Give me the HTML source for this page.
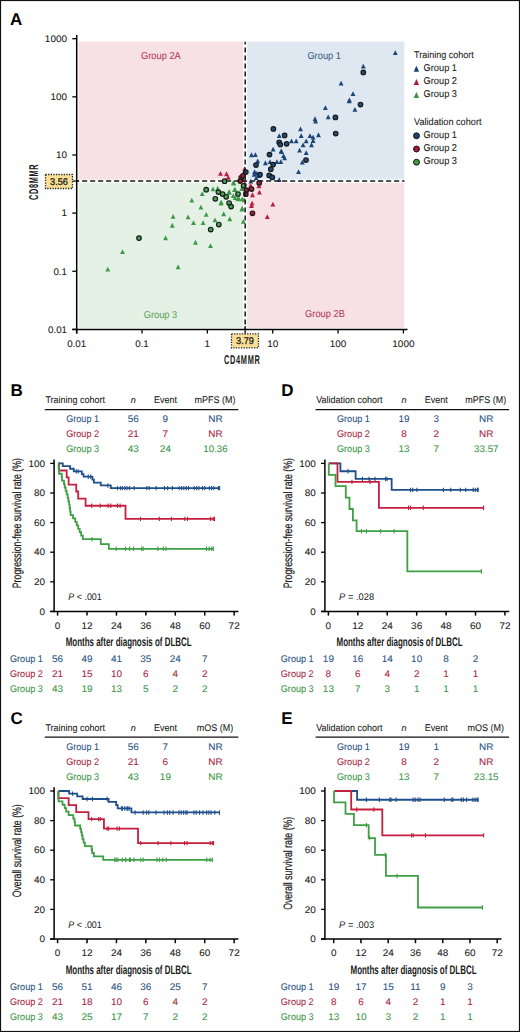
<!DOCTYPE html>
<html><head><meta charset="utf-8"><style>
html,body{margin:0;padding:0;background:#fff;overflow:hidden;}
svg{display:block;font-family:"Liberation Sans",sans-serif;text-rendering:geometricPrecision;}
</style></head><body>
<svg width="520" height="1032" viewBox="0 0 520 1032">
<rect x="0" y="0" width="520" height="1032" fill="#fff"/>
<text x="10.00" y="25.00" font-size="17.00" text-anchor="start" fill="#000" font-weight="bold" font-style="normal" >A</text>
<rect x="78.50" y="41.50" width="164.40" height="137.90" fill="#f7e1e5" />
<rect x="247.20" y="41.50" width="157.10" height="137.90" fill="#dfe8f0" />
<rect x="78.50" y="182.80" width="164.40" height="145.20" fill="#e6f1e5" />
<rect x="247.20" y="182.80" width="157.10" height="145.20" fill="#f7e1e5" />
<text x="160.90" y="59.40" font-size="9.95" text-anchor="middle" fill="#b23a58" font-weight="normal" font-style="normal"  textLength="39.81" lengthAdjust="spacingAndGlyphs" stroke="#b23a58" stroke-width="0.08">Group 2A</text>
<text x="324.20" y="58.80" font-size="9.95" text-anchor="middle" fill="#3f6188" font-weight="normal" font-style="normal"  textLength="33.60" lengthAdjust="spacingAndGlyphs" stroke="#3f6188" stroke-width="0.08">Group 1</text>
<text x="160.50" y="317.50" font-size="9.95" text-anchor="middle" fill="#5aa55f" font-weight="normal" font-style="normal"  textLength="33.60" lengthAdjust="spacingAndGlyphs" stroke="#5aa55f" stroke-width="0.08">Group 3</text>
<text x="325.00" y="317.30" font-size="9.95" text-anchor="middle" fill="#b23a58" font-weight="normal" font-style="normal"  textLength="39.81" lengthAdjust="spacingAndGlyphs" stroke="#b23a58" stroke-width="0.08">Group 2B</text>
<polygon points="392.85,55.05 397.75,55.05 395.30,50.25" fill="#1d4577"/>
<polygon points="360.85,68.55 365.75,68.55 363.30,63.75" fill="#1d4577"/>
<polygon points="338.65,85.45 343.55,85.45 341.10,80.65" fill="#1d4577"/>
<polygon points="350.55,95.95 355.45,95.95 353.00,91.15" fill="#1d4577"/>
<polygon points="346.75,103.35 351.65,103.35 349.20,98.55" fill="#1d4577"/>
<polygon points="352.45,111.75 357.35,111.75 354.90,106.95" fill="#1d4577"/>
<polygon points="322.95,109.95 327.85,109.95 325.40,105.15" fill="#1d4577"/>
<polygon points="325.75,119.35 330.65,119.35 328.20,114.55" fill="#1d4577"/>
<polygon points="312.55,121.15 317.45,121.15 315.00,116.35" fill="#1d4577"/>
<polygon points="313.15,123.55 318.05,123.55 315.60,118.75" fill="#1d4577"/>
<polygon points="298.05,131.25 302.95,131.25 300.50,126.45" fill="#1d4577"/>
<polygon points="298.75,137.95 303.65,137.95 301.20,133.15" fill="#1d4577"/>
<polygon points="307.55,137.95 312.45,137.95 310.00,133.15" fill="#1d4577"/>
<polygon points="310.65,139.55 315.55,139.55 313.10,134.75" fill="#1d4577"/>
<polygon points="316.05,137.15 320.95,137.15 318.50,132.35" fill="#1d4577"/>
<polygon points="310.65,142.95 315.55,142.95 313.10,138.15" fill="#1d4577"/>
<polygon points="303.75,143.35 308.65,143.35 306.20,138.55" fill="#1d4577"/>
<polygon points="289.05,143.35 293.95,143.35 291.50,138.55" fill="#1d4577"/>
<polygon points="293.75,143.35 298.65,143.35 296.20,138.55" fill="#1d4577"/>
<polygon points="276.75,137.95 281.65,137.95 279.20,133.15" fill="#1d4577"/>
<polygon points="300.65,147.25 305.55,147.25 303.10,142.45" fill="#1d4577"/>
<polygon points="309.05,147.15 313.95,147.15 311.50,142.35" fill="#1d4577"/>
<polygon points="297.15,152.55 302.05,152.55 299.60,147.75" fill="#1d4577"/>
<polygon points="303.75,155.05 308.65,155.05 306.20,150.25" fill="#1d4577"/>
<polygon points="270.65,151.45 275.55,151.45 273.10,146.65" fill="#1d4577"/>
<polygon points="278.75,153.35 283.65,153.35 281.20,148.55" fill="#1d4577"/>
<polygon points="249.05,157.15 253.95,157.15 251.50,152.35" fill="#1d4577"/>
<polygon points="252.95,156.95 257.85,156.95 255.40,152.15" fill="#1d4577"/>
<polygon points="281.05,157.95 285.95,157.95 283.50,153.15" fill="#1d4577"/>
<polygon points="282.15,160.25 287.05,160.25 284.60,155.45" fill="#1d4577"/>
<polygon points="279.05,154.05 283.95,154.05 281.50,149.25" fill="#1d4577"/>
<polygon points="299.85,164.55 304.75,164.55 302.30,159.75" fill="#1d4577"/>
<polygon points="255.25,163.35 260.15,163.35 257.70,158.55" fill="#1d4577"/>
<polygon points="262.95,165.15 267.85,165.15 265.40,160.35" fill="#1d4577"/>
<polygon points="267.55,164.05 272.45,164.05 270.00,159.25" fill="#1d4577"/>
<polygon points="274.45,164.05 279.35,164.05 276.90,159.25" fill="#1d4577"/>
<polygon points="278.35,164.05 283.25,164.05 280.80,159.25" fill="#1d4577"/>
<polygon points="296.05,174.05 300.95,174.05 298.50,169.25" fill="#1d4577"/>
<polygon points="252.15,174.05 257.05,174.05 254.60,169.25" fill="#1d4577"/>
<polygon points="254.45,175.65 259.35,175.65 256.90,170.85" fill="#1d4577"/>
<polygon points="253.75,180.25 258.65,180.25 256.20,175.45" fill="#1d4577"/>
<polygon points="276.75,182.05 281.65,182.05 279.20,177.25" fill="#1d4577"/>
<polygon points="248.35,183.55 253.25,183.55 250.80,178.75" fill="#1d4577"/>
<polygon points="251.75,176.75 256.65,176.75 254.20,171.95" fill="#1d4577"/>
<polygon points="256.35,177.95 261.25,177.95 258.80,173.15" fill="#1d4577"/>
<polygon points="346.95,102.25 351.85,102.25 349.40,97.45" fill="#1d4577"/>
<polygon points="218.05,175.85 222.95,175.85 220.50,171.05" fill="#bb1d3d"/>
<polygon points="224.05,176.15 228.95,176.15 226.50,171.35" fill="#bb1d3d"/>
<polygon points="225.85,179.65 230.75,179.65 228.30,174.85" fill="#bb1d3d"/>
<polygon points="242.15,171.05 247.05,171.05 244.60,166.25" fill="#bb1d3d"/>
<polygon points="240.05,176.75 244.95,176.75 242.50,171.95" fill="#bb1d3d"/>
<polygon points="240.65,181.95 245.55,181.95 243.10,177.15" fill="#bb1d3d"/>
<polygon points="242.35,185.45 247.25,185.45 244.80,180.65" fill="#bb1d3d"/>
<polygon points="248.15,187.75 253.05,187.75 250.60,182.95" fill="#bb1d3d"/>
<polygon points="250.05,197.15 254.95,197.15 252.50,192.35" fill="#bb1d3d"/>
<polygon points="256.95,194.45 261.85,194.45 259.40,189.65" fill="#bb1d3d"/>
<polygon points="249.65,205.45 254.55,205.45 252.10,200.65" fill="#bb1d3d"/>
<polygon points="249.05,207.95 253.95,207.95 251.50,203.15" fill="#bb1d3d"/>
<polygon points="270.45,206.55 275.35,206.55 272.90,201.75" fill="#bb1d3d"/>
<polygon points="264.85,218.95 269.75,218.95 267.30,214.15" fill="#bb1d3d"/>
<polygon points="256.55,188.15 261.45,188.15 259.00,183.35" fill="#bb1d3d"/>
<polygon points="231.35,185.45 236.25,185.45 233.80,180.65" fill="#40994a"/>
<polygon points="232.55,191.75 237.45,191.75 235.00,186.95" fill="#40994a"/>
<polygon points="226.75,194.65 231.65,194.65 229.20,189.85" fill="#40994a"/>
<polygon points="210.55,191.25 215.45,191.25 213.00,186.45" fill="#40994a"/>
<polygon points="199.75,196.05 204.65,196.05 202.20,191.25" fill="#40994a"/>
<polygon points="189.35,202.45 194.25,202.45 191.80,197.65" fill="#40994a"/>
<polygon points="215.25,190.65 220.15,190.65 217.70,185.85" fill="#40994a"/>
<polygon points="226.65,193.95 231.55,193.95 229.10,189.15" fill="#40994a"/>
<polygon points="232.05,191.95 236.95,191.95 234.50,187.15" fill="#40994a"/>
<polygon points="232.75,200.05 237.65,200.05 235.20,195.25" fill="#40994a"/>
<polygon points="235.45,201.35 240.35,201.35 237.90,196.55" fill="#40994a"/>
<polygon points="218.55,205.45 223.45,205.45 221.00,200.65" fill="#40994a"/>
<polygon points="198.45,209.45 203.35,209.45 200.90,204.65" fill="#40994a"/>
<polygon points="203.75,216.85 208.65,216.85 206.20,212.05" fill="#40994a"/>
<polygon points="221.25,216.15 226.15,216.15 223.70,211.35" fill="#40994a"/>
<polygon points="185.65,219.35 190.55,219.35 188.10,214.55" fill="#40994a"/>
<polygon points="191.05,224.95 195.95,224.95 193.50,220.15" fill="#40994a"/>
<polygon points="200.65,224.95 205.55,224.95 203.10,220.15" fill="#40994a"/>
<polygon points="212.55,222.25 217.45,222.25 215.00,217.45" fill="#40994a"/>
<polygon points="227.35,221.15 232.25,221.15 229.80,216.35" fill="#40994a"/>
<polygon points="239.45,211.45 244.35,211.45 241.90,206.65" fill="#40994a"/>
<polygon points="240.85,223.75 245.75,223.75 243.30,218.95" fill="#40994a"/>
<polygon points="170.65,218.75 175.55,218.75 173.10,213.95" fill="#40994a"/>
<polygon points="169.85,227.65 174.75,227.65 172.30,222.85" fill="#40994a"/>
<polygon points="163.15,240.15 168.05,240.15 165.60,235.35" fill="#40994a"/>
<polygon points="120.05,254.05 124.95,254.05 122.50,249.25" fill="#40994a"/>
<polygon points="105.35,271.55 110.25,271.55 107.80,266.75" fill="#40994a"/>
<polygon points="175.65,269.35 180.55,269.35 178.10,264.55" fill="#40994a"/>
<polygon points="193.05,244.65 197.95,244.65 195.50,239.85" fill="#40994a"/>
<polygon points="208.05,248.05 212.95,248.05 210.50,243.25" fill="#40994a"/>
<polygon points="230.95,184.85 235.85,184.85 233.40,180.05" fill="#40994a"/>
<polygon points="239.25,191.05 244.15,191.05 241.70,186.25" fill="#40994a"/>
<polygon points="239.85,201.35 244.75,201.35 242.30,196.55" fill="#40994a"/>
<polygon points="239.85,210.55 244.75,210.55 242.30,205.75" fill="#40994a"/>
<polygon points="218.75,204.45 223.65,204.45 221.20,199.65" fill="#40994a"/>
<polygon points="236.55,200.95 241.45,200.95 239.00,196.15" fill="#40994a"/>
<polygon points="241.75,202.15 246.65,202.15 244.20,197.35" fill="#40994a"/>
<polygon points="230.75,198.05 235.65,198.05 233.20,193.25" fill="#40994a"/>
<circle cx="224.60" cy="181.20" r="2.3" fill="#4b9f58" stroke="#141a16" stroke-width="1.15"/>
<circle cx="206.20" cy="189.70" r="2.3" fill="#4b9f58" stroke="#141a16" stroke-width="1.15"/>
<circle cx="218.40" cy="192.10" r="2.3" fill="#4b9f58" stroke="#141a16" stroke-width="1.15"/>
<circle cx="222.60" cy="194.00" r="2.3" fill="#4b9f58" stroke="#141a16" stroke-width="1.15"/>
<circle cx="226.20" cy="196.80" r="2.3" fill="#4b9f58" stroke="#141a16" stroke-width="1.15"/>
<circle cx="238.00" cy="194.00" r="2.3" fill="#4b9f58" stroke="#141a16" stroke-width="1.15"/>
<circle cx="215.30" cy="198.80" r="2.3" fill="#4b9f58" stroke="#141a16" stroke-width="1.15"/>
<circle cx="229.10" cy="203.00" r="2.3" fill="#4b9f58" stroke="#141a16" stroke-width="1.15"/>
<circle cx="231.10" cy="206.60" r="2.3" fill="#4b9f58" stroke="#141a16" stroke-width="1.15"/>
<circle cx="218.80" cy="224.50" r="2.3" fill="#4b9f58" stroke="#141a16" stroke-width="1.15"/>
<circle cx="210.70" cy="229.50" r="2.3" fill="#4b9f58" stroke="#141a16" stroke-width="1.15"/>
<circle cx="139.00" cy="238.10" r="2.3" fill="#4b9f58" stroke="#141a16" stroke-width="1.15"/>
<circle cx="243.60" cy="185.80" r="2.3" fill="#4b9f58" stroke="#141a16" stroke-width="1.15"/>
<circle cx="241.30" cy="177.70" r="2.3" fill="#a8183a" stroke="#141a16" stroke-width="1.15"/>
<circle cx="240.20" cy="181.10" r="2.3" fill="#a8183a" stroke="#141a16" stroke-width="1.15"/>
<circle cx="251.50" cy="189.00" r="2.3" fill="#a8183a" stroke="#141a16" stroke-width="1.15"/>
<circle cx="246.30" cy="190.20" r="2.3" fill="#a8183a" stroke="#141a16" stroke-width="1.15"/>
<circle cx="245.80" cy="194.20" r="2.3" fill="#a8183a" stroke="#141a16" stroke-width="1.15"/>
<circle cx="259.20" cy="182.90" r="2.3" fill="#a8183a" stroke="#141a16" stroke-width="1.15"/>
<circle cx="252.50" cy="213.30" r="2.3" fill="#a8183a" stroke="#141a16" stroke-width="1.15"/>
<circle cx="243.00" cy="175.80" r="2.3" fill="#a8183a" stroke="#141a16" stroke-width="1.15"/>
<circle cx="363.30" cy="72.40" r="2.3" fill="#24497a" stroke="#141a16" stroke-width="1.15"/>
<circle cx="360.50" cy="104.60" r="2.3" fill="#24497a" stroke="#141a16" stroke-width="1.15"/>
<circle cx="335.40" cy="117.40" r="2.3" fill="#24497a" stroke="#141a16" stroke-width="1.15"/>
<circle cx="335.70" cy="133.50" r="2.3" fill="#24497a" stroke="#141a16" stroke-width="1.15"/>
<circle cx="273.40" cy="128.90" r="2.3" fill="#24497a" stroke="#141a16" stroke-width="1.15"/>
<circle cx="284.60" cy="135.40" r="2.3" fill="#24497a" stroke="#141a16" stroke-width="1.15"/>
<circle cx="279.20" cy="142.30" r="2.3" fill="#24497a" stroke="#141a16" stroke-width="1.15"/>
<circle cx="280.30" cy="144.60" r="2.3" fill="#24497a" stroke="#141a16" stroke-width="1.15"/>
<circle cx="286.60" cy="143.80" r="2.3" fill="#24497a" stroke="#141a16" stroke-width="1.15"/>
<circle cx="269.50" cy="154.60" r="2.3" fill="#24497a" stroke="#141a16" stroke-width="1.15"/>
<circle cx="306.00" cy="160.00" r="2.3" fill="#24497a" stroke="#141a16" stroke-width="1.15"/>
<circle cx="256.00" cy="165.00" r="2.3" fill="#24497a" stroke="#141a16" stroke-width="1.15"/>
<circle cx="273.10" cy="164.60" r="2.3" fill="#24497a" stroke="#141a16" stroke-width="1.15"/>
<circle cx="270.80" cy="169.20" r="2.3" fill="#24497a" stroke="#141a16" stroke-width="1.15"/>
<circle cx="260.00" cy="174.60" r="2.3" fill="#24497a" stroke="#141a16" stroke-width="1.15"/>
<circle cx="269.20" cy="175.40" r="2.3" fill="#24497a" stroke="#141a16" stroke-width="1.15"/>
<circle cx="272.30" cy="177.40" r="2.3" fill="#24497a" stroke="#141a16" stroke-width="1.15"/>
<circle cx="245.80" cy="172.00" r="2.3" fill="#24497a" stroke="#141a16" stroke-width="1.15"/>
<line x1="245.19" y1="41.80" x2="245.19" y2="329.00" stroke="#1a1a1a" stroke-width="1.5" stroke-dasharray="5,3" stroke-dashoffset="2.3"/>
<line x1="245.19" y1="326.00" x2="245.19" y2="334.00" stroke="#222" stroke-width="1.4" />
<line x1="77.00" y1="181.06" x2="404.50" y2="181.06" stroke="#1a1a1a" stroke-width="1.6" stroke-dasharray="5.1,2.9" stroke-dashoffset="2.9"/>
<line x1="72.50" y1="181.06" x2="79.00" y2="181.06" stroke="#222" stroke-width="1.4" />
<line x1="76.70" y1="35.00" x2="76.70" y2="333.50" stroke="#000" stroke-width="1.5" />
<line x1="72.30" y1="329.40" x2="407.50" y2="329.40" stroke="#000" stroke-width="1.5" />
<line x1="72.30" y1="329.40" x2="76.70" y2="329.40" stroke="#000" stroke-width="1.3" />
<text x="67.00" y="332.70" font-size="9.60" text-anchor="end" fill="#1a1a1a" font-weight="normal" font-style="normal"  textLength="18.98" lengthAdjust="spacingAndGlyphs" stroke="#1a1a1a" stroke-width="0.08">0.01</text>
<line x1="76.70" y1="329.40" x2="76.70" y2="333.50" stroke="#000" stroke-width="1.3" />
<text x="76.70" y="346.50" font-size="9.60" text-anchor="middle" fill="#1a1a1a" font-weight="normal" font-style="normal"  textLength="18.98" lengthAdjust="spacingAndGlyphs" stroke="#1a1a1a" stroke-width="0.08">0.01</text>
<line x1="72.30" y1="271.26" x2="76.70" y2="271.26" stroke="#000" stroke-width="1.3" />
<text x="67.00" y="274.56" font-size="9.60" text-anchor="end" fill="#1a1a1a" font-weight="normal" font-style="normal"  textLength="13.55" lengthAdjust="spacingAndGlyphs" stroke="#1a1a1a" stroke-width="0.08">0.1</text>
<line x1="142.04" y1="329.40" x2="142.04" y2="333.50" stroke="#000" stroke-width="1.3" />
<text x="142.04" y="346.50" font-size="9.60" text-anchor="middle" fill="#1a1a1a" font-weight="normal" font-style="normal"  textLength="13.55" lengthAdjust="spacingAndGlyphs" stroke="#1a1a1a" stroke-width="0.08">0.1</text>
<line x1="72.30" y1="213.12" x2="76.70" y2="213.12" stroke="#000" stroke-width="1.3" />
<text x="67.00" y="216.42" font-size="9.60" text-anchor="end" fill="#1a1a1a" font-weight="normal" font-style="normal"  textLength="5.53" lengthAdjust="spacingAndGlyphs" stroke="#1a1a1a" stroke-width="0.08">1</text>
<line x1="207.38" y1="329.40" x2="207.38" y2="333.50" stroke="#000" stroke-width="1.3" />
<text x="207.38" y="346.50" font-size="9.60" text-anchor="middle" fill="#1a1a1a" font-weight="normal" font-style="normal"  textLength="5.53" lengthAdjust="spacingAndGlyphs" stroke="#1a1a1a" stroke-width="0.08">1</text>
<line x1="72.30" y1="154.98" x2="76.70" y2="154.98" stroke="#000" stroke-width="1.3" />
<text x="67.00" y="158.28" font-size="9.60" text-anchor="end" fill="#1a1a1a" font-weight="normal" font-style="normal"  textLength="11.07" lengthAdjust="spacingAndGlyphs" stroke="#1a1a1a" stroke-width="0.08">10</text>
<line x1="272.72" y1="329.40" x2="272.72" y2="333.50" stroke="#000" stroke-width="1.3" />
<text x="272.72" y="346.50" font-size="9.60" text-anchor="middle" fill="#1a1a1a" font-weight="normal" font-style="normal"  textLength="11.07" lengthAdjust="spacingAndGlyphs" stroke="#1a1a1a" stroke-width="0.08">10</text>
<line x1="72.30" y1="96.84" x2="76.70" y2="96.84" stroke="#000" stroke-width="1.3" />
<text x="67.00" y="100.14" font-size="9.60" text-anchor="end" fill="#1a1a1a" font-weight="normal" font-style="normal"  textLength="16.60" lengthAdjust="spacingAndGlyphs" stroke="#1a1a1a" stroke-width="0.08">100</text>
<line x1="338.06" y1="329.40" x2="338.06" y2="333.50" stroke="#000" stroke-width="1.3" />
<text x="338.06" y="346.50" font-size="9.60" text-anchor="middle" fill="#1a1a1a" font-weight="normal" font-style="normal"  textLength="16.60" lengthAdjust="spacingAndGlyphs" stroke="#1a1a1a" stroke-width="0.08">100</text>
<line x1="72.30" y1="38.70" x2="76.70" y2="38.70" stroke="#000" stroke-width="1.3" />
<text x="67.00" y="42.00" font-size="9.60" text-anchor="end" fill="#1a1a1a" font-weight="normal" font-style="normal"  textLength="22.14" lengthAdjust="spacingAndGlyphs" stroke="#1a1a1a" stroke-width="0.08">1000</text>
<line x1="403.40" y1="329.40" x2="403.40" y2="333.50" stroke="#000" stroke-width="1.3" />
<text x="403.40" y="346.50" font-size="9.60" text-anchor="middle" fill="#1a1a1a" font-weight="normal" font-style="normal"  textLength="22.14" lengthAdjust="spacingAndGlyphs" stroke="#1a1a1a" stroke-width="0.08">1000</text>
<rect x="45.50" y="174.50" width="27.00" height="14.00" fill="#f9df95" stroke="#222" stroke-width="1.3" stroke-dasharray="1.3,1.3"/>
<text x="59" y="184.7" font-size="9.7" text-anchor="middle" fill="#1a1a1a" stroke="#1a1a1a" stroke-width="0.3" textLength="17.8" lengthAdjust="spacingAndGlyphs">3.56</text>
<rect x="231.50" y="333.80" width="27.00" height="14.00" fill="#f9df95" stroke="#222" stroke-width="1.3" stroke-dasharray="1.3,1.3"/>
<text x="245" y="344.1" font-size="9.7" text-anchor="middle" fill="#1a1a1a" stroke="#1a1a1a" stroke-width="0.3" textLength="17.8" lengthAdjust="spacingAndGlyphs">3.79</text>
<text x="242.30" y="364.20" font-size="12.80" text-anchor="middle" fill="#1a1a1a" font-weight="bold" font-style="normal" letter-spacing="1.2" textLength="36.5" lengthAdjust="spacingAndGlyphs">CD4MMR</text>
<text transform="translate(37.7,181.9) rotate(-90)" font-size="12.8" text-anchor="middle" font-weight="bold" letter-spacing="1.2" fill="#1a1a1a" textLength="36.3" lengthAdjust="spacingAndGlyphs">CD8MMR</text>
<text x="414.00" y="58.00" font-size="9.67" text-anchor="start" fill="#1a1a1a" font-weight="normal" font-style="normal"  textLength="59.70" lengthAdjust="spacingAndGlyphs" stroke="#1a1a1a" stroke-width="0.08">Training cohort</text>
<polygon points="413.70,71.80 419.10,71.80 416.40,65.80" fill="#1c3f6c"/>
<text x="423.60" y="70.80" font-size="9.90" text-anchor="start" fill="#1a1a1a" font-weight="normal" font-style="normal"  textLength="33.42" lengthAdjust="spacingAndGlyphs" stroke="#1a1a1a" stroke-width="0.08">Group 1</text>
<polygon points="413.70,84.90 419.10,84.90 416.40,78.90" fill="#a81c3a"/>
<text x="423.60" y="83.90" font-size="9.90" text-anchor="start" fill="#1a1a1a" font-weight="normal" font-style="normal"  textLength="33.42" lengthAdjust="spacingAndGlyphs" stroke="#1a1a1a" stroke-width="0.08">Group 2</text>
<polygon points="413.70,98.00 419.10,98.00 416.40,92.00" fill="#3a9144"/>
<text x="423.60" y="97.00" font-size="9.90" text-anchor="start" fill="#1a1a1a" font-weight="normal" font-style="normal"  textLength="33.42" lengthAdjust="spacingAndGlyphs" stroke="#1a1a1a" stroke-width="0.08">Group 3</text>
<text x="414.00" y="124.90" font-size="9.84" text-anchor="start" fill="#1a1a1a" font-weight="normal" font-style="normal"  textLength="67.48" lengthAdjust="spacingAndGlyphs" stroke="#1a1a1a" stroke-width="0.08">Validation cohort</text>
<circle cx="416.5" cy="135.80" r="2.95" fill="#1d4273" stroke="#151515" stroke-width="1"/>
<text x="423.60" y="137.80" font-size="9.90" text-anchor="start" fill="#1a1a1a" font-weight="normal" font-style="normal"  textLength="33.42" lengthAdjust="spacingAndGlyphs" stroke="#1a1a1a" stroke-width="0.08">Group 1</text>
<circle cx="416.5" cy="149.00" r="2.95" fill="#a8183a" stroke="#151515" stroke-width="1"/>
<text x="423.60" y="150.85" font-size="9.90" text-anchor="start" fill="#1a1a1a" font-weight="normal" font-style="normal"  textLength="33.42" lengthAdjust="spacingAndGlyphs" stroke="#1a1a1a" stroke-width="0.08">Group 2</text>
<circle cx="416.5" cy="162.20" r="2.95" fill="#3d9a45" stroke="#151515" stroke-width="1"/>
<text x="423.60" y="163.90" font-size="9.90" text-anchor="start" fill="#1a1a1a" font-weight="normal" font-style="normal"  textLength="33.42" lengthAdjust="spacingAndGlyphs" stroke="#1a1a1a" stroke-width="0.08">Group 3</text>
<text x="10.50" y="396.00" font-size="17.00" text-anchor="start" fill="#000" font-weight="bold" font-style="normal" >B</text>
<text x="45.40" y="403.30" font-size="9.67" text-anchor="start" fill="#1a1a1a" font-weight="normal" font-style="normal"  textLength="59.70" lengthAdjust="spacingAndGlyphs" stroke="#1a1a1a" stroke-width="0.08">Training cohort</text>
<text x="133.20" y="403.30" font-size="9.00" text-anchor="middle" fill="#1a1a1a" font-weight="normal" font-style="italic"  stroke="#1a1a1a" stroke-width="0.08">n</text>
<text x="165.40" y="403.30" font-size="9.67" text-anchor="middle" fill="#1a1a1a" font-weight="normal" font-style="normal"  textLength="23.01" lengthAdjust="spacingAndGlyphs" stroke="#1a1a1a" stroke-width="0.08">Event</text>
<text x="215.00" y="403.30" font-size="9.67" text-anchor="middle" fill="#1a1a1a" font-weight="normal" font-style="normal"  textLength="40.99" lengthAdjust="spacingAndGlyphs" stroke="#1a1a1a" stroke-width="0.08">mPFS (M)</text>
<line x1="44.80" y1="409.60" x2="238.30" y2="409.60" stroke="#111" stroke-width="1.3" />
<text x="66.20" y="422.10" font-size="9.74" text-anchor="start" fill="#2a5282" font-weight="normal" font-style="normal"  textLength="32.88" lengthAdjust="spacingAndGlyphs" stroke="#2a5282" stroke-width="0.08">Group 1</text>
<text x="133.20" y="422.10" font-size="9.60" text-anchor="middle" fill="#2a5282" font-weight="normal" font-style="normal"  textLength="11.07" lengthAdjust="spacingAndGlyphs" stroke="#2a5282" stroke-width="0.08">56</text>
<text x="165.40" y="422.10" font-size="9.60" text-anchor="middle" fill="#2a5282" font-weight="normal" font-style="normal"  textLength="5.53" lengthAdjust="spacingAndGlyphs" stroke="#2a5282" stroke-width="0.08">9</text>
<text x="215.50" y="422.10" font-size="9.60" text-anchor="middle" fill="#2a5282" font-weight="normal" font-style="normal"  textLength="14.37" lengthAdjust="spacingAndGlyphs" stroke="#2a5282" stroke-width="0.08">NR</text>
<text x="66.20" y="437.25" font-size="9.74" text-anchor="start" fill="#aa2642" font-weight="normal" font-style="normal"  textLength="32.88" lengthAdjust="spacingAndGlyphs" stroke="#aa2642" stroke-width="0.08">Group 2</text>
<text x="133.20" y="437.25" font-size="9.60" text-anchor="middle" fill="#aa2642" font-weight="normal" font-style="normal"  textLength="11.07" lengthAdjust="spacingAndGlyphs" stroke="#aa2642" stroke-width="0.08">21</text>
<text x="165.40" y="437.25" font-size="9.60" text-anchor="middle" fill="#aa2642" font-weight="normal" font-style="normal"  textLength="5.53" lengthAdjust="spacingAndGlyphs" stroke="#aa2642" stroke-width="0.08">7</text>
<text x="215.50" y="437.25" font-size="9.60" text-anchor="middle" fill="#aa2642" font-weight="normal" font-style="normal"  textLength="14.37" lengthAdjust="spacingAndGlyphs" stroke="#aa2642" stroke-width="0.08">NR</text>
<text x="66.20" y="452.40" font-size="9.74" text-anchor="start" fill="#3d9647" font-weight="normal" font-style="normal"  textLength="32.88" lengthAdjust="spacingAndGlyphs" stroke="#3d9647" stroke-width="0.08">Group 3</text>
<text x="133.20" y="452.40" font-size="9.60" text-anchor="middle" fill="#3d9647" font-weight="normal" font-style="normal"  textLength="11.07" lengthAdjust="spacingAndGlyphs" stroke="#3d9647" stroke-width="0.08">43</text>
<text x="165.40" y="452.40" font-size="9.60" text-anchor="middle" fill="#3d9647" font-weight="normal" font-style="normal"  textLength="11.07" lengthAdjust="spacingAndGlyphs" stroke="#3d9647" stroke-width="0.08">24</text>
<text x="215.50" y="452.40" font-size="9.60" text-anchor="middle" fill="#3d9647" font-weight="normal" font-style="normal"  textLength="24.40" lengthAdjust="spacingAndGlyphs" stroke="#3d9647" stroke-width="0.08">10.36</text>
<line x1="54.10" y1="459.60" x2="54.10" y2="612.20" stroke="#000" stroke-width="1.5" />
<line x1="50.20" y1="611.40" x2="238.44" y2="611.40" stroke="#000" stroke-width="1.5" />
<line x1="50.20" y1="611.40" x2="54.10" y2="611.40" stroke="#000" stroke-width="1.3" />
<text x="45.00" y="614.60" font-size="9.60" text-anchor="end" fill="#1a1a1a" font-weight="normal" font-style="normal"  textLength="5.53" lengthAdjust="spacingAndGlyphs" stroke="#1a1a1a" stroke-width="0.08">0</text>
<line x1="50.20" y1="581.80" x2="54.10" y2="581.80" stroke="#000" stroke-width="1.3" />
<text x="45.00" y="585.00" font-size="9.60" text-anchor="end" fill="#1a1a1a" font-weight="normal" font-style="normal"  textLength="11.07" lengthAdjust="spacingAndGlyphs" stroke="#1a1a1a" stroke-width="0.08">20</text>
<line x1="50.20" y1="552.20" x2="54.10" y2="552.20" stroke="#000" stroke-width="1.3" />
<text x="45.00" y="555.40" font-size="9.60" text-anchor="end" fill="#1a1a1a" font-weight="normal" font-style="normal"  textLength="11.07" lengthAdjust="spacingAndGlyphs" stroke="#1a1a1a" stroke-width="0.08">40</text>
<line x1="50.20" y1="522.60" x2="54.10" y2="522.60" stroke="#000" stroke-width="1.3" />
<text x="45.00" y="525.80" font-size="9.60" text-anchor="end" fill="#1a1a1a" font-weight="normal" font-style="normal"  textLength="11.07" lengthAdjust="spacingAndGlyphs" stroke="#1a1a1a" stroke-width="0.08">60</text>
<line x1="50.20" y1="493.00" x2="54.10" y2="493.00" stroke="#000" stroke-width="1.3" />
<text x="45.00" y="496.20" font-size="9.60" text-anchor="end" fill="#1a1a1a" font-weight="normal" font-style="normal"  textLength="11.07" lengthAdjust="spacingAndGlyphs" stroke="#1a1a1a" stroke-width="0.08">80</text>
<line x1="50.20" y1="463.40" x2="54.10" y2="463.40" stroke="#000" stroke-width="1.3" />
<text x="45.00" y="466.60" font-size="9.60" text-anchor="end" fill="#1a1a1a" font-weight="normal" font-style="normal"  textLength="16.60" lengthAdjust="spacingAndGlyphs" stroke="#1a1a1a" stroke-width="0.08">100</text>
<line x1="57.60" y1="611.40" x2="57.60" y2="615.60" stroke="#000" stroke-width="1.5" />
<text x="57.60" y="628.80" font-size="9.60" text-anchor="middle" fill="#1a1a1a" font-weight="normal" font-style="normal"  textLength="5.53" lengthAdjust="spacingAndGlyphs" stroke="#1a1a1a" stroke-width="0.08">0</text>
<line x1="87.02" y1="611.40" x2="87.02" y2="615.60" stroke="#000" stroke-width="1.5" />
<text x="87.02" y="628.80" font-size="9.60" text-anchor="middle" fill="#1a1a1a" font-weight="normal" font-style="normal"  textLength="11.07" lengthAdjust="spacingAndGlyphs" stroke="#1a1a1a" stroke-width="0.08">12</text>
<line x1="116.45" y1="611.40" x2="116.45" y2="615.60" stroke="#000" stroke-width="1.5" />
<text x="116.45" y="628.80" font-size="9.60" text-anchor="middle" fill="#1a1a1a" font-weight="normal" font-style="normal"  textLength="11.07" lengthAdjust="spacingAndGlyphs" stroke="#1a1a1a" stroke-width="0.08">24</text>
<line x1="145.87" y1="611.40" x2="145.87" y2="615.60" stroke="#000" stroke-width="1.5" />
<text x="145.87" y="628.80" font-size="9.60" text-anchor="middle" fill="#1a1a1a" font-weight="normal" font-style="normal"  textLength="11.07" lengthAdjust="spacingAndGlyphs" stroke="#1a1a1a" stroke-width="0.08">36</text>
<line x1="175.30" y1="611.40" x2="175.30" y2="615.60" stroke="#000" stroke-width="1.5" />
<text x="175.30" y="628.80" font-size="9.60" text-anchor="middle" fill="#1a1a1a" font-weight="normal" font-style="normal"  textLength="11.07" lengthAdjust="spacingAndGlyphs" stroke="#1a1a1a" stroke-width="0.08">48</text>
<line x1="204.72" y1="611.40" x2="204.72" y2="615.60" stroke="#000" stroke-width="1.5" />
<text x="204.72" y="628.80" font-size="9.60" text-anchor="middle" fill="#1a1a1a" font-weight="normal" font-style="normal"  textLength="11.07" lengthAdjust="spacingAndGlyphs" stroke="#1a1a1a" stroke-width="0.08">60</text>
<line x1="234.14" y1="611.40" x2="234.14" y2="615.60" stroke="#000" stroke-width="1.5" />
<text x="234.14" y="628.80" font-size="9.60" text-anchor="middle" fill="#1a1a1a" font-weight="normal" font-style="normal"  textLength="11.07" lengthAdjust="spacingAndGlyphs" stroke="#1a1a1a" stroke-width="0.08">72</text>
<text x="128.70" y="646.00" font-size="12.40" text-anchor="middle" fill="#1a1a1a" font-weight="bold" font-style="normal" textLength="126" lengthAdjust="spacingAndGlyphs">Months after diagnosis of DLBCL</text>
<text transform="translate(20.90,523.20) rotate(-90)" font-size="12.2" text-anchor="middle" fill="#1a1a1a" stroke="#1a1a1a" stroke-width="0.22" textLength="130" lengthAdjust="spacingAndGlyphs">Progression-free survival rate (%)</text>
<text x="68.30" y="600.40" font-size="9.6" fill="#1a1a1a" textLength="33.5" lengthAdjust="spacingAndGlyphs"><tspan font-style="italic">P</tspan> &lt; .001</text>
<text x="10.00" y="662.40" font-size="9.74" text-anchor="start" fill="#2a5282" font-weight="normal" font-style="normal"  textLength="32.88" lengthAdjust="spacingAndGlyphs" stroke="#2a5282" stroke-width="0.08">Group 1</text>
<text x="57.60" y="662.40" font-size="9.60" text-anchor="middle" fill="#2a5282" font-weight="normal" font-style="normal"  textLength="11.07" lengthAdjust="spacingAndGlyphs" stroke="#2a5282" stroke-width="0.08">56</text>
<text x="87.02" y="662.40" font-size="9.60" text-anchor="middle" fill="#2a5282" font-weight="normal" font-style="normal"  textLength="11.07" lengthAdjust="spacingAndGlyphs" stroke="#2a5282" stroke-width="0.08">49</text>
<text x="116.45" y="662.40" font-size="9.60" text-anchor="middle" fill="#2a5282" font-weight="normal" font-style="normal"  textLength="11.07" lengthAdjust="spacingAndGlyphs" stroke="#2a5282" stroke-width="0.08">41</text>
<text x="145.87" y="662.40" font-size="9.60" text-anchor="middle" fill="#2a5282" font-weight="normal" font-style="normal"  textLength="11.07" lengthAdjust="spacingAndGlyphs" stroke="#2a5282" stroke-width="0.08">35</text>
<text x="175.30" y="662.40" font-size="9.60" text-anchor="middle" fill="#2a5282" font-weight="normal" font-style="normal"  textLength="11.07" lengthAdjust="spacingAndGlyphs" stroke="#2a5282" stroke-width="0.08">24</text>
<text x="204.72" y="662.40" font-size="9.60" text-anchor="middle" fill="#2a5282" font-weight="normal" font-style="normal"  textLength="5.53" lengthAdjust="spacingAndGlyphs" stroke="#2a5282" stroke-width="0.08">7</text>
<text x="10.00" y="677.40" font-size="9.74" text-anchor="start" fill="#aa2642" font-weight="normal" font-style="normal"  textLength="32.88" lengthAdjust="spacingAndGlyphs" stroke="#aa2642" stroke-width="0.08">Group 2</text>
<text x="57.60" y="677.40" font-size="9.60" text-anchor="middle" fill="#aa2642" font-weight="normal" font-style="normal"  textLength="11.07" lengthAdjust="spacingAndGlyphs" stroke="#aa2642" stroke-width="0.08">21</text>
<text x="87.02" y="677.40" font-size="9.60" text-anchor="middle" fill="#aa2642" font-weight="normal" font-style="normal"  textLength="11.07" lengthAdjust="spacingAndGlyphs" stroke="#aa2642" stroke-width="0.08">15</text>
<text x="116.45" y="677.40" font-size="9.60" text-anchor="middle" fill="#aa2642" font-weight="normal" font-style="normal"  textLength="11.07" lengthAdjust="spacingAndGlyphs" stroke="#aa2642" stroke-width="0.08">10</text>
<text x="145.87" y="677.40" font-size="9.60" text-anchor="middle" fill="#aa2642" font-weight="normal" font-style="normal"  textLength="5.53" lengthAdjust="spacingAndGlyphs" stroke="#aa2642" stroke-width="0.08">6</text>
<text x="175.30" y="677.40" font-size="9.60" text-anchor="middle" fill="#aa2642" font-weight="normal" font-style="normal"  textLength="5.53" lengthAdjust="spacingAndGlyphs" stroke="#aa2642" stroke-width="0.08">4</text>
<text x="204.72" y="677.40" font-size="9.60" text-anchor="middle" fill="#aa2642" font-weight="normal" font-style="normal"  textLength="5.53" lengthAdjust="spacingAndGlyphs" stroke="#aa2642" stroke-width="0.08">2</text>
<text x="10.00" y="692.40" font-size="9.74" text-anchor="start" fill="#3d9647" font-weight="normal" font-style="normal"  textLength="32.88" lengthAdjust="spacingAndGlyphs" stroke="#3d9647" stroke-width="0.08">Group 3</text>
<text x="57.60" y="692.40" font-size="9.60" text-anchor="middle" fill="#3d9647" font-weight="normal" font-style="normal"  textLength="11.07" lengthAdjust="spacingAndGlyphs" stroke="#3d9647" stroke-width="0.08">43</text>
<text x="87.02" y="692.40" font-size="9.60" text-anchor="middle" fill="#3d9647" font-weight="normal" font-style="normal"  textLength="11.07" lengthAdjust="spacingAndGlyphs" stroke="#3d9647" stroke-width="0.08">19</text>
<text x="116.45" y="692.40" font-size="9.60" text-anchor="middle" fill="#3d9647" font-weight="normal" font-style="normal"  textLength="11.07" lengthAdjust="spacingAndGlyphs" stroke="#3d9647" stroke-width="0.08">13</text>
<text x="145.87" y="692.40" font-size="9.60" text-anchor="middle" fill="#3d9647" font-weight="normal" font-style="normal"  textLength="5.53" lengthAdjust="spacingAndGlyphs" stroke="#3d9647" stroke-width="0.08">5</text>
<text x="175.30" y="692.40" font-size="9.60" text-anchor="middle" fill="#3d9647" font-weight="normal" font-style="normal"  textLength="5.53" lengthAdjust="spacingAndGlyphs" stroke="#3d9647" stroke-width="0.08">2</text>
<text x="204.72" y="692.40" font-size="9.60" text-anchor="middle" fill="#3d9647" font-weight="normal" font-style="normal"  textLength="5.53" lengthAdjust="spacingAndGlyphs" stroke="#3d9647" stroke-width="0.08">2</text>
<!--CURVESB-->
<path d="M58.34,463.40 H62.75 V466.06 H70.11 V468.73 H73.78 V471.39 H81.87 V474.06 H83.59 V476.72 H92.42 V479.68 H93.89 V482.64 H100.76 V485.45 H110.81 V488.12 H219.68 V488.12" fill="none" stroke="#1f4f8b" stroke-width="1.8"/>
<line x1="76.24" y1="469.19" x2="76.24" y2="473.59" stroke="#1f4f8b" stroke-width="1.1" />
<line x1="78.20" y1="469.19" x2="78.20" y2="473.59" stroke="#1f4f8b" stroke-width="1.1" />
<line x1="88.25" y1="474.52" x2="88.25" y2="478.92" stroke="#1f4f8b" stroke-width="1.1" />
<line x1="90.70" y1="474.52" x2="90.70" y2="478.92" stroke="#1f4f8b" stroke-width="1.1" />
<line x1="107.87" y1="483.25" x2="107.87" y2="487.65" stroke="#1f4f8b" stroke-width="1.1" />
<line x1="117.43" y1="485.92" x2="117.43" y2="490.32" stroke="#1f4f8b" stroke-width="1.1" />
<line x1="120.37" y1="485.92" x2="120.37" y2="490.32" stroke="#1f4f8b" stroke-width="1.1" />
<line x1="122.33" y1="485.92" x2="122.33" y2="490.32" stroke="#1f4f8b" stroke-width="1.1" />
<line x1="124.78" y1="485.92" x2="124.78" y2="490.32" stroke="#1f4f8b" stroke-width="1.1" />
<line x1="126.99" y1="485.92" x2="126.99" y2="490.32" stroke="#1f4f8b" stroke-width="1.1" />
<line x1="129.44" y1="485.92" x2="129.44" y2="490.32" stroke="#1f4f8b" stroke-width="1.1" />
<line x1="134.10" y1="485.92" x2="134.10" y2="490.32" stroke="#1f4f8b" stroke-width="1.1" />
<line x1="146.85" y1="485.92" x2="146.85" y2="490.32" stroke="#1f4f8b" stroke-width="1.1" />
<line x1="149.30" y1="485.92" x2="149.30" y2="490.32" stroke="#1f4f8b" stroke-width="1.1" />
<line x1="156.17" y1="485.92" x2="156.17" y2="490.32" stroke="#1f4f8b" stroke-width="1.1" />
<line x1="164.51" y1="485.92" x2="164.51" y2="490.32" stroke="#1f4f8b" stroke-width="1.1" />
<line x1="167.69" y1="485.92" x2="167.69" y2="490.32" stroke="#1f4f8b" stroke-width="1.1" />
<line x1="172.35" y1="485.92" x2="172.35" y2="490.32" stroke="#1f4f8b" stroke-width="1.1" />
<line x1="179.22" y1="485.92" x2="179.22" y2="490.32" stroke="#1f4f8b" stroke-width="1.1" />
<line x1="181.67" y1="485.92" x2="181.67" y2="490.32" stroke="#1f4f8b" stroke-width="1.1" />
<line x1="183.88" y1="485.92" x2="183.88" y2="490.32" stroke="#1f4f8b" stroke-width="1.1" />
<line x1="186.33" y1="485.92" x2="186.33" y2="490.32" stroke="#1f4f8b" stroke-width="1.1" />
<line x1="188.54" y1="485.92" x2="188.54" y2="490.32" stroke="#1f4f8b" stroke-width="1.1" />
<line x1="194.18" y1="485.92" x2="194.18" y2="490.32" stroke="#1f4f8b" stroke-width="1.1" />
<line x1="196.63" y1="485.92" x2="196.63" y2="490.32" stroke="#1f4f8b" stroke-width="1.1" />
<line x1="198.84" y1="485.92" x2="198.84" y2="490.32" stroke="#1f4f8b" stroke-width="1.1" />
<line x1="202.51" y1="485.92" x2="202.51" y2="490.32" stroke="#1f4f8b" stroke-width="1.1" />
<line x1="204.72" y1="485.92" x2="204.72" y2="490.32" stroke="#1f4f8b" stroke-width="1.1" />
<line x1="209.38" y1="485.92" x2="209.38" y2="490.32" stroke="#1f4f8b" stroke-width="1.1" />
<line x1="211.59" y1="485.92" x2="211.59" y2="490.32" stroke="#1f4f8b" stroke-width="1.1" />
<line x1="213.79" y1="485.92" x2="213.79" y2="490.32" stroke="#1f4f8b" stroke-width="1.1" />
<line x1="218.45" y1="485.92" x2="218.45" y2="490.32" stroke="#1f4f8b" stroke-width="1.1" />
<line x1="219.68" y1="485.92" x2="219.68" y2="490.32" stroke="#1f4f8b" stroke-width="1.1" />
<path d="M58.34,463.40 H59.07 V470.50 H66.67 V477.46 H68.63 V484.56 H76.24 V491.52 H78.20 V498.62 H85.55 V505.73 H125.52 V518.90 H214.53 V518.90" fill="none" stroke="#c41f3e" stroke-width="1.8"/>
<line x1="91.68" y1="503.53" x2="91.68" y2="507.93" stroke="#c41f3e" stroke-width="1.1" />
<line x1="100.26" y1="503.53" x2="100.26" y2="507.93" stroke="#c41f3e" stroke-width="1.1" />
<line x1="108.11" y1="503.53" x2="108.11" y2="507.93" stroke="#c41f3e" stroke-width="1.1" />
<line x1="110.81" y1="503.53" x2="110.81" y2="507.93" stroke="#c41f3e" stroke-width="1.1" />
<line x1="117.43" y1="503.53" x2="117.43" y2="507.93" stroke="#c41f3e" stroke-width="1.1" />
<line x1="120.13" y1="503.53" x2="120.13" y2="507.93" stroke="#c41f3e" stroke-width="1.1" />
<line x1="140.48" y1="516.70" x2="140.48" y2="521.10" stroke="#c41f3e" stroke-width="1.1" />
<line x1="159.36" y1="516.70" x2="159.36" y2="521.10" stroke="#c41f3e" stroke-width="1.1" />
<line x1="171.37" y1="516.70" x2="171.37" y2="521.10" stroke="#c41f3e" stroke-width="1.1" />
<line x1="184.86" y1="516.70" x2="184.86" y2="521.10" stroke="#c41f3e" stroke-width="1.1" />
<line x1="187.56" y1="516.70" x2="187.56" y2="521.10" stroke="#c41f3e" stroke-width="1.1" />
<line x1="210.60" y1="516.70" x2="210.60" y2="521.10" stroke="#c41f3e" stroke-width="1.1" />
<line x1="213.30" y1="516.70" x2="213.30" y2="521.10" stroke="#c41f3e" stroke-width="1.1" />
<line x1="214.53" y1="516.70" x2="214.53" y2="521.10" stroke="#c41f3e" stroke-width="1.1" />
<path d="M58.34,463.40 H58.58 V466.80 H58.83 V470.36 H59.07 V473.76 H61.77 V477.16 H62.01 V480.57 H63.98 V484.12 H64.71 V487.52 H65.69 V490.93 H66.67 V494.33 H67.65 V497.88 H68.39 V501.29 H69.12 V504.69 H69.61 V508.10 H70.11 V511.65 H70.60 V515.05 H73.05 V518.46 H75.25 V521.86 H76.73 V525.41 H78.20 V528.82 H79.67 V532.22 H81.14 V535.62 H82.86 V539.18 H100.76 V544.06 H108.85 V548.80 H213.30 V548.80" fill="none" stroke="#3f9f45" stroke-width="1.8"/>
<line x1="91.93" y1="536.98" x2="91.93" y2="541.38" stroke="#3f9f45" stroke-width="1.1" />
<line x1="116.20" y1="546.60" x2="116.20" y2="551.00" stroke="#3f9f45" stroke-width="1.1" />
<line x1="125.52" y1="546.60" x2="125.52" y2="551.00" stroke="#3f9f45" stroke-width="1.1" />
<line x1="129.69" y1="546.60" x2="129.69" y2="551.00" stroke="#3f9f45" stroke-width="1.1" />
<line x1="133.61" y1="546.60" x2="133.61" y2="551.00" stroke="#3f9f45" stroke-width="1.1" />
<line x1="141.70" y1="546.60" x2="141.70" y2="551.00" stroke="#3f9f45" stroke-width="1.1" />
<line x1="143.17" y1="546.60" x2="143.17" y2="551.00" stroke="#3f9f45" stroke-width="1.1" />
<line x1="157.89" y1="546.60" x2="157.89" y2="551.00" stroke="#3f9f45" stroke-width="1.1" />
<line x1="163.28" y1="546.60" x2="163.28" y2="551.00" stroke="#3f9f45" stroke-width="1.1" />
<line x1="165.98" y1="546.60" x2="165.98" y2="551.00" stroke="#3f9f45" stroke-width="1.1" />
<line x1="206.44" y1="546.60" x2="206.44" y2="551.00" stroke="#3f9f45" stroke-width="1.1" />
<line x1="209.13" y1="546.60" x2="209.13" y2="551.00" stroke="#3f9f45" stroke-width="1.1" />
<line x1="211.83" y1="546.60" x2="211.83" y2="551.00" stroke="#3f9f45" stroke-width="1.1" />
<line x1="213.30" y1="546.60" x2="213.30" y2="551.00" stroke="#3f9f45" stroke-width="1.1" />
<text x="281.30" y="396.00" font-size="17.00" text-anchor="start" fill="#000" font-weight="bold" font-style="normal" >D</text>
<text x="316.20" y="403.30" font-size="9.67" text-anchor="start" fill="#1a1a1a" font-weight="normal" font-style="normal"  textLength="66.38" lengthAdjust="spacingAndGlyphs" stroke="#1a1a1a" stroke-width="0.08">Validation cohort</text>
<text x="404.00" y="403.30" font-size="9.00" text-anchor="middle" fill="#1a1a1a" font-weight="normal" font-style="italic"  stroke="#1a1a1a" stroke-width="0.08">n</text>
<text x="436.20" y="403.30" font-size="9.67" text-anchor="middle" fill="#1a1a1a" font-weight="normal" font-style="normal"  textLength="23.01" lengthAdjust="spacingAndGlyphs" stroke="#1a1a1a" stroke-width="0.08">Event</text>
<text x="485.80" y="403.30" font-size="9.67" text-anchor="middle" fill="#1a1a1a" font-weight="normal" font-style="normal"  textLength="40.99" lengthAdjust="spacingAndGlyphs" stroke="#1a1a1a" stroke-width="0.08">mPFS (M)</text>
<line x1="315.60" y1="409.60" x2="509.10" y2="409.60" stroke="#111" stroke-width="1.3" />
<text x="337.00" y="422.10" font-size="9.74" text-anchor="start" fill="#2a5282" font-weight="normal" font-style="normal"  textLength="32.88" lengthAdjust="spacingAndGlyphs" stroke="#2a5282" stroke-width="0.08">Group 1</text>
<text x="404.00" y="422.10" font-size="9.60" text-anchor="middle" fill="#2a5282" font-weight="normal" font-style="normal"  textLength="11.07" lengthAdjust="spacingAndGlyphs" stroke="#2a5282" stroke-width="0.08">19</text>
<text x="436.20" y="422.10" font-size="9.60" text-anchor="middle" fill="#2a5282" font-weight="normal" font-style="normal"  textLength="5.53" lengthAdjust="spacingAndGlyphs" stroke="#2a5282" stroke-width="0.08">3</text>
<text x="486.30" y="422.10" font-size="9.60" text-anchor="middle" fill="#2a5282" font-weight="normal" font-style="normal"  textLength="14.37" lengthAdjust="spacingAndGlyphs" stroke="#2a5282" stroke-width="0.08">NR</text>
<text x="337.00" y="437.25" font-size="9.74" text-anchor="start" fill="#aa2642" font-weight="normal" font-style="normal"  textLength="32.88" lengthAdjust="spacingAndGlyphs" stroke="#aa2642" stroke-width="0.08">Group 2</text>
<text x="404.00" y="437.25" font-size="9.60" text-anchor="middle" fill="#aa2642" font-weight="normal" font-style="normal"  textLength="5.53" lengthAdjust="spacingAndGlyphs" stroke="#aa2642" stroke-width="0.08">8</text>
<text x="436.20" y="437.25" font-size="9.60" text-anchor="middle" fill="#aa2642" font-weight="normal" font-style="normal"  textLength="5.53" lengthAdjust="spacingAndGlyphs" stroke="#aa2642" stroke-width="0.08">2</text>
<text x="486.30" y="437.25" font-size="9.60" text-anchor="middle" fill="#aa2642" font-weight="normal" font-style="normal"  textLength="14.37" lengthAdjust="spacingAndGlyphs" stroke="#aa2642" stroke-width="0.08">NR</text>
<text x="337.00" y="452.40" font-size="9.74" text-anchor="start" fill="#3d9647" font-weight="normal" font-style="normal"  textLength="32.88" lengthAdjust="spacingAndGlyphs" stroke="#3d9647" stroke-width="0.08">Group 3</text>
<text x="404.00" y="452.40" font-size="9.60" text-anchor="middle" fill="#3d9647" font-weight="normal" font-style="normal"  textLength="11.07" lengthAdjust="spacingAndGlyphs" stroke="#3d9647" stroke-width="0.08">13</text>
<text x="436.20" y="452.40" font-size="9.60" text-anchor="middle" fill="#3d9647" font-weight="normal" font-style="normal"  textLength="5.53" lengthAdjust="spacingAndGlyphs" stroke="#3d9647" stroke-width="0.08">7</text>
<text x="486.30" y="452.40" font-size="9.60" text-anchor="middle" fill="#3d9647" font-weight="normal" font-style="normal"  textLength="24.40" lengthAdjust="spacingAndGlyphs" stroke="#3d9647" stroke-width="0.08">33.57</text>
<line x1="324.90" y1="459.60" x2="324.90" y2="612.20" stroke="#000" stroke-width="1.5" />
<line x1="321.00" y1="611.40" x2="509.24" y2="611.40" stroke="#000" stroke-width="1.5" />
<line x1="321.00" y1="611.40" x2="324.90" y2="611.40" stroke="#000" stroke-width="1.3" />
<text x="315.80" y="614.60" font-size="9.60" text-anchor="end" fill="#1a1a1a" font-weight="normal" font-style="normal"  textLength="5.53" lengthAdjust="spacingAndGlyphs" stroke="#1a1a1a" stroke-width="0.08">0</text>
<line x1="321.00" y1="581.80" x2="324.90" y2="581.80" stroke="#000" stroke-width="1.3" />
<text x="315.80" y="585.00" font-size="9.60" text-anchor="end" fill="#1a1a1a" font-weight="normal" font-style="normal"  textLength="11.07" lengthAdjust="spacingAndGlyphs" stroke="#1a1a1a" stroke-width="0.08">20</text>
<line x1="321.00" y1="552.20" x2="324.90" y2="552.20" stroke="#000" stroke-width="1.3" />
<text x="315.80" y="555.40" font-size="9.60" text-anchor="end" fill="#1a1a1a" font-weight="normal" font-style="normal"  textLength="11.07" lengthAdjust="spacingAndGlyphs" stroke="#1a1a1a" stroke-width="0.08">40</text>
<line x1="321.00" y1="522.60" x2="324.90" y2="522.60" stroke="#000" stroke-width="1.3" />
<text x="315.80" y="525.80" font-size="9.60" text-anchor="end" fill="#1a1a1a" font-weight="normal" font-style="normal"  textLength="11.07" lengthAdjust="spacingAndGlyphs" stroke="#1a1a1a" stroke-width="0.08">60</text>
<line x1="321.00" y1="493.00" x2="324.90" y2="493.00" stroke="#000" stroke-width="1.3" />
<text x="315.80" y="496.20" font-size="9.60" text-anchor="end" fill="#1a1a1a" font-weight="normal" font-style="normal"  textLength="11.07" lengthAdjust="spacingAndGlyphs" stroke="#1a1a1a" stroke-width="0.08">80</text>
<line x1="321.00" y1="463.40" x2="324.90" y2="463.40" stroke="#000" stroke-width="1.3" />
<text x="315.80" y="466.60" font-size="9.60" text-anchor="end" fill="#1a1a1a" font-weight="normal" font-style="normal"  textLength="16.60" lengthAdjust="spacingAndGlyphs" stroke="#1a1a1a" stroke-width="0.08">100</text>
<line x1="328.40" y1="611.40" x2="328.40" y2="615.60" stroke="#000" stroke-width="1.5" />
<text x="328.40" y="628.80" font-size="9.60" text-anchor="middle" fill="#1a1a1a" font-weight="normal" font-style="normal"  textLength="5.53" lengthAdjust="spacingAndGlyphs" stroke="#1a1a1a" stroke-width="0.08">0</text>
<line x1="357.82" y1="611.40" x2="357.82" y2="615.60" stroke="#000" stroke-width="1.5" />
<text x="357.82" y="628.80" font-size="9.60" text-anchor="middle" fill="#1a1a1a" font-weight="normal" font-style="normal"  textLength="11.07" lengthAdjust="spacingAndGlyphs" stroke="#1a1a1a" stroke-width="0.08">12</text>
<line x1="387.25" y1="611.40" x2="387.25" y2="615.60" stroke="#000" stroke-width="1.5" />
<text x="387.25" y="628.80" font-size="9.60" text-anchor="middle" fill="#1a1a1a" font-weight="normal" font-style="normal"  textLength="11.07" lengthAdjust="spacingAndGlyphs" stroke="#1a1a1a" stroke-width="0.08">24</text>
<line x1="416.67" y1="611.40" x2="416.67" y2="615.60" stroke="#000" stroke-width="1.5" />
<text x="416.67" y="628.80" font-size="9.60" text-anchor="middle" fill="#1a1a1a" font-weight="normal" font-style="normal"  textLength="11.07" lengthAdjust="spacingAndGlyphs" stroke="#1a1a1a" stroke-width="0.08">36</text>
<line x1="446.10" y1="611.40" x2="446.10" y2="615.60" stroke="#000" stroke-width="1.5" />
<text x="446.10" y="628.80" font-size="9.60" text-anchor="middle" fill="#1a1a1a" font-weight="normal" font-style="normal"  textLength="11.07" lengthAdjust="spacingAndGlyphs" stroke="#1a1a1a" stroke-width="0.08">48</text>
<line x1="475.52" y1="611.40" x2="475.52" y2="615.60" stroke="#000" stroke-width="1.5" />
<text x="475.52" y="628.80" font-size="9.60" text-anchor="middle" fill="#1a1a1a" font-weight="normal" font-style="normal"  textLength="11.07" lengthAdjust="spacingAndGlyphs" stroke="#1a1a1a" stroke-width="0.08">60</text>
<line x1="504.94" y1="611.40" x2="504.94" y2="615.60" stroke="#000" stroke-width="1.5" />
<text x="504.94" y="628.80" font-size="9.60" text-anchor="middle" fill="#1a1a1a" font-weight="normal" font-style="normal"  textLength="11.07" lengthAdjust="spacingAndGlyphs" stroke="#1a1a1a" stroke-width="0.08">72</text>
<text x="399.50" y="646.00" font-size="12.40" text-anchor="middle" fill="#1a1a1a" font-weight="bold" font-style="normal" textLength="126" lengthAdjust="spacingAndGlyphs">Months after diagnosis of DLBCL</text>
<text transform="translate(291.70,523.20) rotate(-90)" font-size="12.2" text-anchor="middle" fill="#1a1a1a" stroke="#1a1a1a" stroke-width="0.22" textLength="130" lengthAdjust="spacingAndGlyphs">Progression-free survival rate (%)</text>
<text x="339.10" y="600.40" font-size="9.6" fill="#1a1a1a" textLength="35" lengthAdjust="spacingAndGlyphs"><tspan font-style="italic">P</tspan> = .028</text>
<text x="280.80" y="662.40" font-size="9.74" text-anchor="start" fill="#2a5282" font-weight="normal" font-style="normal"  textLength="32.88" lengthAdjust="spacingAndGlyphs" stroke="#2a5282" stroke-width="0.08">Group 1</text>
<text x="328.40" y="662.40" font-size="9.60" text-anchor="middle" fill="#2a5282" font-weight="normal" font-style="normal"  textLength="11.07" lengthAdjust="spacingAndGlyphs" stroke="#2a5282" stroke-width="0.08">19</text>
<text x="357.82" y="662.40" font-size="9.60" text-anchor="middle" fill="#2a5282" font-weight="normal" font-style="normal"  textLength="11.07" lengthAdjust="spacingAndGlyphs" stroke="#2a5282" stroke-width="0.08">16</text>
<text x="387.25" y="662.40" font-size="9.60" text-anchor="middle" fill="#2a5282" font-weight="normal" font-style="normal"  textLength="11.07" lengthAdjust="spacingAndGlyphs" stroke="#2a5282" stroke-width="0.08">14</text>
<text x="416.67" y="662.40" font-size="9.60" text-anchor="middle" fill="#2a5282" font-weight="normal" font-style="normal"  textLength="11.07" lengthAdjust="spacingAndGlyphs" stroke="#2a5282" stroke-width="0.08">10</text>
<text x="446.10" y="662.40" font-size="9.60" text-anchor="middle" fill="#2a5282" font-weight="normal" font-style="normal"  textLength="5.53" lengthAdjust="spacingAndGlyphs" stroke="#2a5282" stroke-width="0.08">8</text>
<text x="475.52" y="662.40" font-size="9.60" text-anchor="middle" fill="#2a5282" font-weight="normal" font-style="normal"  textLength="5.53" lengthAdjust="spacingAndGlyphs" stroke="#2a5282" stroke-width="0.08">2</text>
<text x="280.80" y="677.40" font-size="9.74" text-anchor="start" fill="#aa2642" font-weight="normal" font-style="normal"  textLength="32.88" lengthAdjust="spacingAndGlyphs" stroke="#aa2642" stroke-width="0.08">Group 2</text>
<text x="328.40" y="677.40" font-size="9.60" text-anchor="middle" fill="#aa2642" font-weight="normal" font-style="normal"  textLength="5.53" lengthAdjust="spacingAndGlyphs" stroke="#aa2642" stroke-width="0.08">8</text>
<text x="357.82" y="677.40" font-size="9.60" text-anchor="middle" fill="#aa2642" font-weight="normal" font-style="normal"  textLength="5.53" lengthAdjust="spacingAndGlyphs" stroke="#aa2642" stroke-width="0.08">6</text>
<text x="387.25" y="677.40" font-size="9.60" text-anchor="middle" fill="#aa2642" font-weight="normal" font-style="normal"  textLength="5.53" lengthAdjust="spacingAndGlyphs" stroke="#aa2642" stroke-width="0.08">4</text>
<text x="416.67" y="677.40" font-size="9.60" text-anchor="middle" fill="#aa2642" font-weight="normal" font-style="normal"  textLength="5.53" lengthAdjust="spacingAndGlyphs" stroke="#aa2642" stroke-width="0.08">2</text>
<text x="446.10" y="677.40" font-size="9.60" text-anchor="middle" fill="#aa2642" font-weight="normal" font-style="normal"  textLength="5.53" lengthAdjust="spacingAndGlyphs" stroke="#aa2642" stroke-width="0.08">1</text>
<text x="475.52" y="677.40" font-size="9.60" text-anchor="middle" fill="#aa2642" font-weight="normal" font-style="normal"  textLength="5.53" lengthAdjust="spacingAndGlyphs" stroke="#aa2642" stroke-width="0.08">1</text>
<text x="280.80" y="692.40" font-size="9.74" text-anchor="start" fill="#3d9647" font-weight="normal" font-style="normal"  textLength="32.88" lengthAdjust="spacingAndGlyphs" stroke="#3d9647" stroke-width="0.08">Group 3</text>
<text x="328.40" y="692.40" font-size="9.60" text-anchor="middle" fill="#3d9647" font-weight="normal" font-style="normal"  textLength="11.07" lengthAdjust="spacingAndGlyphs" stroke="#3d9647" stroke-width="0.08">13</text>
<text x="357.82" y="692.40" font-size="9.60" text-anchor="middle" fill="#3d9647" font-weight="normal" font-style="normal"  textLength="5.53" lengthAdjust="spacingAndGlyphs" stroke="#3d9647" stroke-width="0.08">7</text>
<text x="387.25" y="692.40" font-size="9.60" text-anchor="middle" fill="#3d9647" font-weight="normal" font-style="normal"  textLength="5.53" lengthAdjust="spacingAndGlyphs" stroke="#3d9647" stroke-width="0.08">3</text>
<text x="416.67" y="692.40" font-size="9.60" text-anchor="middle" fill="#3d9647" font-weight="normal" font-style="normal"  textLength="5.53" lengthAdjust="spacingAndGlyphs" stroke="#3d9647" stroke-width="0.08">1</text>
<text x="446.10" y="692.40" font-size="9.60" text-anchor="middle" fill="#3d9647" font-weight="normal" font-style="normal"  textLength="5.53" lengthAdjust="spacingAndGlyphs" stroke="#3d9647" stroke-width="0.08">1</text>
<text x="475.52" y="692.40" font-size="9.60" text-anchor="middle" fill="#3d9647" font-weight="normal" font-style="normal"  textLength="5.53" lengthAdjust="spacingAndGlyphs" stroke="#3d9647" stroke-width="0.08">1</text>
<!--CURVESD-->
<path d="M328.89,463.40 H340.41 V471.24 H355.62 V478.94 H391.66 V489.89 H478.22 V489.89" fill="none" stroke="#1f4f8b" stroke-width="1.8"/>
<line x1="348.02" y1="469.04" x2="348.02" y2="473.44" stroke="#1f4f8b" stroke-width="1.1" />
<line x1="362.48" y1="476.74" x2="362.48" y2="481.14" stroke="#1f4f8b" stroke-width="1.1" />
<line x1="369.10" y1="476.74" x2="369.10" y2="481.14" stroke="#1f4f8b" stroke-width="1.1" />
<line x1="374.99" y1="476.74" x2="374.99" y2="481.14" stroke="#1f4f8b" stroke-width="1.1" />
<line x1="385.53" y1="476.74" x2="385.53" y2="481.14" stroke="#1f4f8b" stroke-width="1.1" />
<line x1="387.00" y1="476.74" x2="387.00" y2="481.14" stroke="#1f4f8b" stroke-width="1.1" />
<line x1="410.54" y1="487.69" x2="410.54" y2="492.09" stroke="#1f4f8b" stroke-width="1.1" />
<line x1="412.75" y1="487.69" x2="412.75" y2="492.09" stroke="#1f4f8b" stroke-width="1.1" />
<line x1="416.92" y1="487.69" x2="416.92" y2="492.09" stroke="#1f4f8b" stroke-width="1.1" />
<line x1="443.40" y1="487.69" x2="443.40" y2="492.09" stroke="#1f4f8b" stroke-width="1.1" />
<line x1="450.75" y1="487.69" x2="450.75" y2="492.09" stroke="#1f4f8b" stroke-width="1.1" />
<line x1="460.32" y1="487.69" x2="460.32" y2="492.09" stroke="#1f4f8b" stroke-width="1.1" />
<line x1="465.71" y1="487.69" x2="465.71" y2="492.09" stroke="#1f4f8b" stroke-width="1.1" />
<line x1="473.07" y1="487.69" x2="473.07" y2="492.09" stroke="#1f4f8b" stroke-width="1.1" />
<line x1="475.27" y1="487.69" x2="475.27" y2="492.09" stroke="#1f4f8b" stroke-width="1.1" />
<line x1="477.48" y1="487.69" x2="477.48" y2="492.09" stroke="#1f4f8b" stroke-width="1.1" />
<line x1="478.22" y1="487.69" x2="478.22" y2="492.09" stroke="#1f4f8b" stroke-width="1.1" />
<path d="M328.89,463.40 H337.47 V481.90 H378.91 V507.80 H483.61 V507.80" fill="none" stroke="#c41f3e" stroke-width="1.8"/>
<line x1="351.94" y1="479.70" x2="351.94" y2="484.10" stroke="#c41f3e" stroke-width="1.1" />
<line x1="370.08" y1="479.70" x2="370.08" y2="484.10" stroke="#c41f3e" stroke-width="1.1" />
<line x1="408.58" y1="505.60" x2="408.58" y2="510.00" stroke="#c41f3e" stroke-width="1.1" />
<line x1="410.54" y1="505.60" x2="410.54" y2="510.00" stroke="#c41f3e" stroke-width="1.1" />
<line x1="423.29" y1="505.60" x2="423.29" y2="510.00" stroke="#c41f3e" stroke-width="1.1" />
<line x1="483.61" y1="505.60" x2="483.61" y2="510.00" stroke="#c41f3e" stroke-width="1.1" />
<path d="M328.65,463.40 H328.77 V474.80 H335.51 V486.19 H345.81 V497.59 H349.49 V508.98 H352.92 V520.38 H356.60 V531.18 H407.35 V571.29 H481.40 V571.29" fill="none" stroke="#3f9f45" stroke-width="1.8"/>
<line x1="361.50" y1="528.98" x2="361.50" y2="533.38" stroke="#3f9f45" stroke-width="1.1" />
<line x1="366.41" y1="528.98" x2="366.41" y2="533.38" stroke="#3f9f45" stroke-width="1.1" />
<line x1="380.63" y1="528.98" x2="380.63" y2="533.38" stroke="#3f9f45" stroke-width="1.1" />
<line x1="394.11" y1="528.98" x2="394.11" y2="533.38" stroke="#3f9f45" stroke-width="1.1" />
<line x1="481.40" y1="569.09" x2="481.40" y2="573.49" stroke="#3f9f45" stroke-width="1.1" />
<text x="10.50" y="723.60" font-size="17.00" text-anchor="start" fill="#000" font-weight="bold" font-style="normal" >C</text>
<text x="45.40" y="730.90" font-size="9.67" text-anchor="start" fill="#1a1a1a" font-weight="normal" font-style="normal"  textLength="59.70" lengthAdjust="spacingAndGlyphs" stroke="#1a1a1a" stroke-width="0.08">Training cohort</text>
<text x="133.20" y="730.90" font-size="9.00" text-anchor="middle" fill="#1a1a1a" font-weight="normal" font-style="italic"  stroke="#1a1a1a" stroke-width="0.08">n</text>
<text x="165.40" y="730.90" font-size="9.67" text-anchor="middle" fill="#1a1a1a" font-weight="normal" font-style="normal"  textLength="23.01" lengthAdjust="spacingAndGlyphs" stroke="#1a1a1a" stroke-width="0.08">Event</text>
<text x="215.00" y="730.90" font-size="9.67" text-anchor="middle" fill="#1a1a1a" font-weight="normal" font-style="normal"  textLength="36.49" lengthAdjust="spacingAndGlyphs" stroke="#1a1a1a" stroke-width="0.08">mOS (M)</text>
<line x1="44.80" y1="737.20" x2="238.30" y2="737.20" stroke="#111" stroke-width="1.3" />
<text x="66.20" y="749.70" font-size="9.74" text-anchor="start" fill="#2a5282" font-weight="normal" font-style="normal"  textLength="32.88" lengthAdjust="spacingAndGlyphs" stroke="#2a5282" stroke-width="0.08">Group 1</text>
<text x="133.20" y="749.70" font-size="9.60" text-anchor="middle" fill="#2a5282" font-weight="normal" font-style="normal"  textLength="11.07" lengthAdjust="spacingAndGlyphs" stroke="#2a5282" stroke-width="0.08">56</text>
<text x="165.40" y="749.70" font-size="9.60" text-anchor="middle" fill="#2a5282" font-weight="normal" font-style="normal"  textLength="5.53" lengthAdjust="spacingAndGlyphs" stroke="#2a5282" stroke-width="0.08">7</text>
<text x="215.50" y="749.70" font-size="9.60" text-anchor="middle" fill="#2a5282" font-weight="normal" font-style="normal"  textLength="14.37" lengthAdjust="spacingAndGlyphs" stroke="#2a5282" stroke-width="0.08">NR</text>
<text x="66.20" y="764.85" font-size="9.74" text-anchor="start" fill="#aa2642" font-weight="normal" font-style="normal"  textLength="32.88" lengthAdjust="spacingAndGlyphs" stroke="#aa2642" stroke-width="0.08">Group 2</text>
<text x="133.20" y="764.85" font-size="9.60" text-anchor="middle" fill="#aa2642" font-weight="normal" font-style="normal"  textLength="11.07" lengthAdjust="spacingAndGlyphs" stroke="#aa2642" stroke-width="0.08">21</text>
<text x="165.40" y="764.85" font-size="9.60" text-anchor="middle" fill="#aa2642" font-weight="normal" font-style="normal"  textLength="5.53" lengthAdjust="spacingAndGlyphs" stroke="#aa2642" stroke-width="0.08">6</text>
<text x="215.50" y="764.85" font-size="9.60" text-anchor="middle" fill="#aa2642" font-weight="normal" font-style="normal"  textLength="14.37" lengthAdjust="spacingAndGlyphs" stroke="#aa2642" stroke-width="0.08">NR</text>
<text x="66.20" y="780.00" font-size="9.74" text-anchor="start" fill="#3d9647" font-weight="normal" font-style="normal"  textLength="32.88" lengthAdjust="spacingAndGlyphs" stroke="#3d9647" stroke-width="0.08">Group 3</text>
<text x="133.20" y="780.00" font-size="9.60" text-anchor="middle" fill="#3d9647" font-weight="normal" font-style="normal"  textLength="11.07" lengthAdjust="spacingAndGlyphs" stroke="#3d9647" stroke-width="0.08">43</text>
<text x="165.40" y="780.00" font-size="9.60" text-anchor="middle" fill="#3d9647" font-weight="normal" font-style="normal"  textLength="11.07" lengthAdjust="spacingAndGlyphs" stroke="#3d9647" stroke-width="0.08">19</text>
<text x="215.50" y="780.00" font-size="9.60" text-anchor="middle" fill="#3d9647" font-weight="normal" font-style="normal"  textLength="14.37" lengthAdjust="spacingAndGlyphs" stroke="#3d9647" stroke-width="0.08">NR</text>
<line x1="54.10" y1="787.20" x2="54.10" y2="939.80" stroke="#000" stroke-width="1.5" />
<line x1="50.20" y1="939.00" x2="238.44" y2="939.00" stroke="#000" stroke-width="1.5" />
<line x1="50.20" y1="939.00" x2="54.10" y2="939.00" stroke="#000" stroke-width="1.3" />
<text x="45.00" y="942.20" font-size="9.60" text-anchor="end" fill="#1a1a1a" font-weight="normal" font-style="normal"  textLength="5.53" lengthAdjust="spacingAndGlyphs" stroke="#1a1a1a" stroke-width="0.08">0</text>
<line x1="50.20" y1="909.40" x2="54.10" y2="909.40" stroke="#000" stroke-width="1.3" />
<text x="45.00" y="912.60" font-size="9.60" text-anchor="end" fill="#1a1a1a" font-weight="normal" font-style="normal"  textLength="11.07" lengthAdjust="spacingAndGlyphs" stroke="#1a1a1a" stroke-width="0.08">20</text>
<line x1="50.20" y1="879.80" x2="54.10" y2="879.80" stroke="#000" stroke-width="1.3" />
<text x="45.00" y="883.00" font-size="9.60" text-anchor="end" fill="#1a1a1a" font-weight="normal" font-style="normal"  textLength="11.07" lengthAdjust="spacingAndGlyphs" stroke="#1a1a1a" stroke-width="0.08">40</text>
<line x1="50.20" y1="850.20" x2="54.10" y2="850.20" stroke="#000" stroke-width="1.3" />
<text x="45.00" y="853.40" font-size="9.60" text-anchor="end" fill="#1a1a1a" font-weight="normal" font-style="normal"  textLength="11.07" lengthAdjust="spacingAndGlyphs" stroke="#1a1a1a" stroke-width="0.08">60</text>
<line x1="50.20" y1="820.60" x2="54.10" y2="820.60" stroke="#000" stroke-width="1.3" />
<text x="45.00" y="823.80" font-size="9.60" text-anchor="end" fill="#1a1a1a" font-weight="normal" font-style="normal"  textLength="11.07" lengthAdjust="spacingAndGlyphs" stroke="#1a1a1a" stroke-width="0.08">80</text>
<line x1="50.20" y1="791.00" x2="54.10" y2="791.00" stroke="#000" stroke-width="1.3" />
<text x="45.00" y="794.20" font-size="9.60" text-anchor="end" fill="#1a1a1a" font-weight="normal" font-style="normal"  textLength="16.60" lengthAdjust="spacingAndGlyphs" stroke="#1a1a1a" stroke-width="0.08">100</text>
<line x1="57.60" y1="939.00" x2="57.60" y2="943.20" stroke="#000" stroke-width="1.5" />
<text x="57.60" y="956.40" font-size="9.60" text-anchor="middle" fill="#1a1a1a" font-weight="normal" font-style="normal"  textLength="5.53" lengthAdjust="spacingAndGlyphs" stroke="#1a1a1a" stroke-width="0.08">0</text>
<line x1="87.02" y1="939.00" x2="87.02" y2="943.20" stroke="#000" stroke-width="1.5" />
<text x="87.02" y="956.40" font-size="9.60" text-anchor="middle" fill="#1a1a1a" font-weight="normal" font-style="normal"  textLength="11.07" lengthAdjust="spacingAndGlyphs" stroke="#1a1a1a" stroke-width="0.08">12</text>
<line x1="116.45" y1="939.00" x2="116.45" y2="943.20" stroke="#000" stroke-width="1.5" />
<text x="116.45" y="956.40" font-size="9.60" text-anchor="middle" fill="#1a1a1a" font-weight="normal" font-style="normal"  textLength="11.07" lengthAdjust="spacingAndGlyphs" stroke="#1a1a1a" stroke-width="0.08">24</text>
<line x1="145.87" y1="939.00" x2="145.87" y2="943.20" stroke="#000" stroke-width="1.5" />
<text x="145.87" y="956.40" font-size="9.60" text-anchor="middle" fill="#1a1a1a" font-weight="normal" font-style="normal"  textLength="11.07" lengthAdjust="spacingAndGlyphs" stroke="#1a1a1a" stroke-width="0.08">36</text>
<line x1="175.30" y1="939.00" x2="175.30" y2="943.20" stroke="#000" stroke-width="1.5" />
<text x="175.30" y="956.40" font-size="9.60" text-anchor="middle" fill="#1a1a1a" font-weight="normal" font-style="normal"  textLength="11.07" lengthAdjust="spacingAndGlyphs" stroke="#1a1a1a" stroke-width="0.08">48</text>
<line x1="204.72" y1="939.00" x2="204.72" y2="943.20" stroke="#000" stroke-width="1.5" />
<text x="204.72" y="956.40" font-size="9.60" text-anchor="middle" fill="#1a1a1a" font-weight="normal" font-style="normal"  textLength="11.07" lengthAdjust="spacingAndGlyphs" stroke="#1a1a1a" stroke-width="0.08">60</text>
<line x1="234.14" y1="939.00" x2="234.14" y2="943.20" stroke="#000" stroke-width="1.5" />
<text x="234.14" y="956.40" font-size="9.60" text-anchor="middle" fill="#1a1a1a" font-weight="normal" font-style="normal"  textLength="11.07" lengthAdjust="spacingAndGlyphs" stroke="#1a1a1a" stroke-width="0.08">72</text>
<text x="128.70" y="973.60" font-size="12.40" text-anchor="middle" fill="#1a1a1a" font-weight="bold" font-style="normal" textLength="126" lengthAdjust="spacingAndGlyphs">Months after diagnosis of DLBCL</text>
<text transform="translate(20.90,850.80) rotate(-90)" font-size="12.2" text-anchor="middle" fill="#1a1a1a" stroke="#1a1a1a" stroke-width="0.22" textLength="93" lengthAdjust="spacingAndGlyphs">Overall survival rate (%)</text>
<text x="68.30" y="928.00" font-size="9.6" fill="#1a1a1a" textLength="33.5" lengthAdjust="spacingAndGlyphs"><tspan font-style="italic">P</tspan> &lt; .001</text>
<text x="10.00" y="990.00" font-size="9.74" text-anchor="start" fill="#2a5282" font-weight="normal" font-style="normal"  textLength="32.88" lengthAdjust="spacingAndGlyphs" stroke="#2a5282" stroke-width="0.08">Group 1</text>
<text x="57.60" y="990.00" font-size="9.60" text-anchor="middle" fill="#2a5282" font-weight="normal" font-style="normal"  textLength="11.07" lengthAdjust="spacingAndGlyphs" stroke="#2a5282" stroke-width="0.08">56</text>
<text x="87.02" y="990.00" font-size="9.60" text-anchor="middle" fill="#2a5282" font-weight="normal" font-style="normal"  textLength="11.07" lengthAdjust="spacingAndGlyphs" stroke="#2a5282" stroke-width="0.08">51</text>
<text x="116.45" y="990.00" font-size="9.60" text-anchor="middle" fill="#2a5282" font-weight="normal" font-style="normal"  textLength="11.07" lengthAdjust="spacingAndGlyphs" stroke="#2a5282" stroke-width="0.08">46</text>
<text x="145.87" y="990.00" font-size="9.60" text-anchor="middle" fill="#2a5282" font-weight="normal" font-style="normal"  textLength="11.07" lengthAdjust="spacingAndGlyphs" stroke="#2a5282" stroke-width="0.08">36</text>
<text x="175.30" y="990.00" font-size="9.60" text-anchor="middle" fill="#2a5282" font-weight="normal" font-style="normal"  textLength="11.07" lengthAdjust="spacingAndGlyphs" stroke="#2a5282" stroke-width="0.08">25</text>
<text x="204.72" y="990.00" font-size="9.60" text-anchor="middle" fill="#2a5282" font-weight="normal" font-style="normal"  textLength="5.53" lengthAdjust="spacingAndGlyphs" stroke="#2a5282" stroke-width="0.08">7</text>
<text x="10.00" y="1005.00" font-size="9.74" text-anchor="start" fill="#aa2642" font-weight="normal" font-style="normal"  textLength="32.88" lengthAdjust="spacingAndGlyphs" stroke="#aa2642" stroke-width="0.08">Group 2</text>
<text x="57.60" y="1005.00" font-size="9.60" text-anchor="middle" fill="#aa2642" font-weight="normal" font-style="normal"  textLength="11.07" lengthAdjust="spacingAndGlyphs" stroke="#aa2642" stroke-width="0.08">21</text>
<text x="87.02" y="1005.00" font-size="9.60" text-anchor="middle" fill="#aa2642" font-weight="normal" font-style="normal"  textLength="11.07" lengthAdjust="spacingAndGlyphs" stroke="#aa2642" stroke-width="0.08">18</text>
<text x="116.45" y="1005.00" font-size="9.60" text-anchor="middle" fill="#aa2642" font-weight="normal" font-style="normal"  textLength="11.07" lengthAdjust="spacingAndGlyphs" stroke="#aa2642" stroke-width="0.08">10</text>
<text x="145.87" y="1005.00" font-size="9.60" text-anchor="middle" fill="#aa2642" font-weight="normal" font-style="normal"  textLength="5.53" lengthAdjust="spacingAndGlyphs" stroke="#aa2642" stroke-width="0.08">6</text>
<text x="175.30" y="1005.00" font-size="9.60" text-anchor="middle" fill="#aa2642" font-weight="normal" font-style="normal"  textLength="5.53" lengthAdjust="spacingAndGlyphs" stroke="#aa2642" stroke-width="0.08">4</text>
<text x="204.72" y="1005.00" font-size="9.60" text-anchor="middle" fill="#aa2642" font-weight="normal" font-style="normal"  textLength="5.53" lengthAdjust="spacingAndGlyphs" stroke="#aa2642" stroke-width="0.08">2</text>
<text x="10.00" y="1020.00" font-size="9.74" text-anchor="start" fill="#3d9647" font-weight="normal" font-style="normal"  textLength="32.88" lengthAdjust="spacingAndGlyphs" stroke="#3d9647" stroke-width="0.08">Group 3</text>
<text x="57.60" y="1020.00" font-size="9.60" text-anchor="middle" fill="#3d9647" font-weight="normal" font-style="normal"  textLength="11.07" lengthAdjust="spacingAndGlyphs" stroke="#3d9647" stroke-width="0.08">43</text>
<text x="87.02" y="1020.00" font-size="9.60" text-anchor="middle" fill="#3d9647" font-weight="normal" font-style="normal"  textLength="11.07" lengthAdjust="spacingAndGlyphs" stroke="#3d9647" stroke-width="0.08">25</text>
<text x="116.45" y="1020.00" font-size="9.60" text-anchor="middle" fill="#3d9647" font-weight="normal" font-style="normal"  textLength="11.07" lengthAdjust="spacingAndGlyphs" stroke="#3d9647" stroke-width="0.08">17</text>
<text x="145.87" y="1020.00" font-size="9.60" text-anchor="middle" fill="#3d9647" font-weight="normal" font-style="normal"  textLength="5.53" lengthAdjust="spacingAndGlyphs" stroke="#3d9647" stroke-width="0.08">7</text>
<text x="175.30" y="1020.00" font-size="9.60" text-anchor="middle" fill="#3d9647" font-weight="normal" font-style="normal"  textLength="5.53" lengthAdjust="spacingAndGlyphs" stroke="#3d9647" stroke-width="0.08">2</text>
<text x="204.72" y="1020.00" font-size="9.60" text-anchor="middle" fill="#3d9647" font-weight="normal" font-style="normal"  textLength="5.53" lengthAdjust="spacingAndGlyphs" stroke="#3d9647" stroke-width="0.08">2</text>
<!--CURVESC-->
<path d="M58.34,791.00 H69.12 V793.66 H77.22 V796.33 H82.61 V798.99 H108.60 V801.80 H116.20 V805.21 H117.67 V808.46 H131.41 V812.46 H219.43 V812.46" fill="none" stroke="#1f4f8b" stroke-width="1.8"/>
<line x1="72.56" y1="791.46" x2="72.56" y2="795.86" stroke="#1f4f8b" stroke-width="1.1" />
<line x1="87.02" y1="796.79" x2="87.02" y2="801.19" stroke="#1f4f8b" stroke-width="1.1" />
<line x1="92.42" y1="796.79" x2="92.42" y2="801.19" stroke="#1f4f8b" stroke-width="1.1" />
<line x1="107.13" y1="796.79" x2="107.13" y2="801.19" stroke="#1f4f8b" stroke-width="1.1" />
<line x1="121.60" y1="806.26" x2="121.60" y2="810.66" stroke="#1f4f8b" stroke-width="1.1" />
<line x1="122.33" y1="806.26" x2="122.33" y2="810.66" stroke="#1f4f8b" stroke-width="1.1" />
<line x1="124.78" y1="806.26" x2="124.78" y2="810.66" stroke="#1f4f8b" stroke-width="1.1" />
<line x1="126.99" y1="806.26" x2="126.99" y2="810.66" stroke="#1f4f8b" stroke-width="1.1" />
<line x1="127.73" y1="806.26" x2="127.73" y2="810.66" stroke="#1f4f8b" stroke-width="1.1" />
<line x1="129.20" y1="806.26" x2="129.20" y2="810.66" stroke="#1f4f8b" stroke-width="1.1" />
<line x1="135.08" y1="810.26" x2="135.08" y2="814.66" stroke="#1f4f8b" stroke-width="1.1" />
<line x1="143.17" y1="810.26" x2="143.17" y2="814.66" stroke="#1f4f8b" stroke-width="1.1" />
<line x1="146.61" y1="810.26" x2="146.61" y2="814.66" stroke="#1f4f8b" stroke-width="1.1" />
<line x1="148.81" y1="810.26" x2="148.81" y2="814.66" stroke="#1f4f8b" stroke-width="1.1" />
<line x1="155.93" y1="810.26" x2="155.93" y2="814.66" stroke="#1f4f8b" stroke-width="1.1" />
<line x1="164.02" y1="810.26" x2="164.02" y2="814.66" stroke="#1f4f8b" stroke-width="1.1" />
<line x1="167.45" y1="810.26" x2="167.45" y2="814.66" stroke="#1f4f8b" stroke-width="1.1" />
<line x1="169.66" y1="810.26" x2="169.66" y2="814.66" stroke="#1f4f8b" stroke-width="1.1" />
<line x1="173.09" y1="810.26" x2="173.09" y2="814.66" stroke="#1f4f8b" stroke-width="1.1" />
<line x1="178.97" y1="810.26" x2="178.97" y2="814.66" stroke="#1f4f8b" stroke-width="1.1" />
<line x1="181.18" y1="810.26" x2="181.18" y2="814.66" stroke="#1f4f8b" stroke-width="1.1" />
<line x1="183.63" y1="810.26" x2="183.63" y2="814.66" stroke="#1f4f8b" stroke-width="1.1" />
<line x1="185.84" y1="810.26" x2="185.84" y2="814.66" stroke="#1f4f8b" stroke-width="1.1" />
<line x1="187.07" y1="810.26" x2="187.07" y2="814.66" stroke="#1f4f8b" stroke-width="1.1" />
<line x1="193.93" y1="810.26" x2="193.93" y2="814.66" stroke="#1f4f8b" stroke-width="1.1" />
<line x1="196.14" y1="810.26" x2="196.14" y2="814.66" stroke="#1f4f8b" stroke-width="1.1" />
<line x1="199.57" y1="810.26" x2="199.57" y2="814.66" stroke="#1f4f8b" stroke-width="1.1" />
<line x1="203.00" y1="810.26" x2="203.00" y2="814.66" stroke="#1f4f8b" stroke-width="1.1" />
<line x1="206.68" y1="810.26" x2="206.68" y2="814.66" stroke="#1f4f8b" stroke-width="1.1" />
<line x1="208.89" y1="810.26" x2="208.89" y2="814.66" stroke="#1f4f8b" stroke-width="1.1" />
<line x1="211.10" y1="810.26" x2="211.10" y2="814.66" stroke="#1f4f8b" stroke-width="1.1" />
<line x1="214.77" y1="810.26" x2="214.77" y2="814.66" stroke="#1f4f8b" stroke-width="1.1" />
<line x1="219.43" y1="810.26" x2="219.43" y2="814.66" stroke="#1f4f8b" stroke-width="1.1" />
<path d="M58.09,791.00 H58.34 V798.10 H68.63 V805.06 H76.24 V812.16 H88.50 V819.12 H103.94 V828.59 H138.03 V843.10 H213.55 V843.10" fill="none" stroke="#c41f3e" stroke-width="1.8"/>
<line x1="91.68" y1="816.92" x2="91.68" y2="821.32" stroke="#c41f3e" stroke-width="1.1" />
<line x1="98.55" y1="816.92" x2="98.55" y2="821.32" stroke="#c41f3e" stroke-width="1.1" />
<line x1="100.26" y1="816.92" x2="100.26" y2="821.32" stroke="#c41f3e" stroke-width="1.1" />
<line x1="107.13" y1="826.39" x2="107.13" y2="830.79" stroke="#c41f3e" stroke-width="1.1" />
<line x1="108.60" y1="826.39" x2="108.60" y2="830.79" stroke="#c41f3e" stroke-width="1.1" />
<line x1="117.18" y1="826.39" x2="117.18" y2="830.79" stroke="#c41f3e" stroke-width="1.1" />
<line x1="119.39" y1="826.39" x2="119.39" y2="830.79" stroke="#c41f3e" stroke-width="1.1" />
<line x1="140.72" y1="840.90" x2="140.72" y2="845.30" stroke="#c41f3e" stroke-width="1.1" />
<line x1="158.13" y1="840.90" x2="158.13" y2="845.30" stroke="#c41f3e" stroke-width="1.1" />
<line x1="170.88" y1="840.90" x2="170.88" y2="845.30" stroke="#c41f3e" stroke-width="1.1" />
<line x1="184.61" y1="840.90" x2="184.61" y2="845.30" stroke="#c41f3e" stroke-width="1.1" />
<line x1="187.07" y1="840.90" x2="187.07" y2="845.30" stroke="#c41f3e" stroke-width="1.1" />
<line x1="210.11" y1="840.90" x2="210.11" y2="845.30" stroke="#c41f3e" stroke-width="1.1" />
<line x1="212.32" y1="840.90" x2="212.32" y2="845.30" stroke="#c41f3e" stroke-width="1.1" />
<line x1="213.55" y1="840.90" x2="213.55" y2="845.30" stroke="#c41f3e" stroke-width="1.1" />
<path d="M58.09,791.00 H58.58 V801.36 H62.50 V804.76 H64.71 V808.17 H66.18 V811.72 H68.63 V815.12 H73.29 V818.53 H74.52 V821.93 H75.01 V825.48 H80.16 V828.89 H81.14 V832.29 H81.87 V835.70 H82.61 V839.25 H83.59 V842.65 H84.82 V846.06 H91.68 V849.46 H92.17 V853.01 H93.89 V856.42 H103.21 V859.82 H212.32 V859.82" fill="none" stroke="#3f9f45" stroke-width="1.8"/>
<line x1="91.68" y1="847.26" x2="91.68" y2="851.66" stroke="#3f9f45" stroke-width="1.1" />
<line x1="114.73" y1="857.62" x2="114.73" y2="862.02" stroke="#3f9f45" stroke-width="1.1" />
<line x1="116.20" y1="857.62" x2="116.20" y2="862.02" stroke="#3f9f45" stroke-width="1.1" />
<line x1="117.92" y1="857.62" x2="117.92" y2="862.02" stroke="#3f9f45" stroke-width="1.1" />
<line x1="122.33" y1="857.62" x2="122.33" y2="862.02" stroke="#3f9f45" stroke-width="1.1" />
<line x1="125.52" y1="857.62" x2="125.52" y2="862.02" stroke="#3f9f45" stroke-width="1.1" />
<line x1="125.77" y1="857.62" x2="125.77" y2="862.02" stroke="#3f9f45" stroke-width="1.1" />
<line x1="129.44" y1="857.62" x2="129.44" y2="862.02" stroke="#3f9f45" stroke-width="1.1" />
<line x1="130.42" y1="857.62" x2="130.42" y2="862.02" stroke="#3f9f45" stroke-width="1.1" />
<line x1="133.86" y1="857.62" x2="133.86" y2="862.02" stroke="#3f9f45" stroke-width="1.1" />
<line x1="140.72" y1="857.62" x2="140.72" y2="862.02" stroke="#3f9f45" stroke-width="1.1" />
<line x1="143.17" y1="857.62" x2="143.17" y2="862.02" stroke="#3f9f45" stroke-width="1.1" />
<line x1="156.91" y1="857.62" x2="156.91" y2="862.02" stroke="#3f9f45" stroke-width="1.1" />
<line x1="159.36" y1="857.62" x2="159.36" y2="862.02" stroke="#3f9f45" stroke-width="1.1" />
<line x1="162.79" y1="857.62" x2="162.79" y2="862.02" stroke="#3f9f45" stroke-width="1.1" />
<line x1="166.22" y1="857.62" x2="166.22" y2="862.02" stroke="#3f9f45" stroke-width="1.1" />
<line x1="206.68" y1="857.62" x2="206.68" y2="862.02" stroke="#3f9f45" stroke-width="1.1" />
<line x1="210.11" y1="857.62" x2="210.11" y2="862.02" stroke="#3f9f45" stroke-width="1.1" />
<line x1="212.32" y1="857.62" x2="212.32" y2="862.02" stroke="#3f9f45" stroke-width="1.1" />
<text x="281.30" y="723.60" font-size="17.00" text-anchor="start" fill="#000" font-weight="bold" font-style="normal" >E</text>
<text x="316.20" y="730.90" font-size="9.67" text-anchor="start" fill="#1a1a1a" font-weight="normal" font-style="normal"  textLength="66.38" lengthAdjust="spacingAndGlyphs" stroke="#1a1a1a" stroke-width="0.08">Validation cohort</text>
<text x="404.00" y="730.90" font-size="9.00" text-anchor="middle" fill="#1a1a1a" font-weight="normal" font-style="italic"  stroke="#1a1a1a" stroke-width="0.08">n</text>
<text x="436.20" y="730.90" font-size="9.67" text-anchor="middle" fill="#1a1a1a" font-weight="normal" font-style="normal"  textLength="23.01" lengthAdjust="spacingAndGlyphs" stroke="#1a1a1a" stroke-width="0.08">Event</text>
<text x="485.80" y="730.90" font-size="9.67" text-anchor="middle" fill="#1a1a1a" font-weight="normal" font-style="normal"  textLength="36.49" lengthAdjust="spacingAndGlyphs" stroke="#1a1a1a" stroke-width="0.08">mOS (M)</text>
<line x1="315.60" y1="737.20" x2="509.10" y2="737.20" stroke="#111" stroke-width="1.3" />
<text x="337.00" y="749.70" font-size="9.74" text-anchor="start" fill="#2a5282" font-weight="normal" font-style="normal"  textLength="32.88" lengthAdjust="spacingAndGlyphs" stroke="#2a5282" stroke-width="0.08">Group 1</text>
<text x="404.00" y="749.70" font-size="9.60" text-anchor="middle" fill="#2a5282" font-weight="normal" font-style="normal"  textLength="11.07" lengthAdjust="spacingAndGlyphs" stroke="#2a5282" stroke-width="0.08">19</text>
<text x="436.20" y="749.70" font-size="9.60" text-anchor="middle" fill="#2a5282" font-weight="normal" font-style="normal"  textLength="5.53" lengthAdjust="spacingAndGlyphs" stroke="#2a5282" stroke-width="0.08">1</text>
<text x="486.30" y="749.70" font-size="9.60" text-anchor="middle" fill="#2a5282" font-weight="normal" font-style="normal"  textLength="14.37" lengthAdjust="spacingAndGlyphs" stroke="#2a5282" stroke-width="0.08">NR</text>
<text x="337.00" y="764.85" font-size="9.74" text-anchor="start" fill="#aa2642" font-weight="normal" font-style="normal"  textLength="32.88" lengthAdjust="spacingAndGlyphs" stroke="#aa2642" stroke-width="0.08">Group 2</text>
<text x="404.00" y="764.85" font-size="9.60" text-anchor="middle" fill="#aa2642" font-weight="normal" font-style="normal"  textLength="5.53" lengthAdjust="spacingAndGlyphs" stroke="#aa2642" stroke-width="0.08">8</text>
<text x="436.20" y="764.85" font-size="9.60" text-anchor="middle" fill="#aa2642" font-weight="normal" font-style="normal"  textLength="5.53" lengthAdjust="spacingAndGlyphs" stroke="#aa2642" stroke-width="0.08">2</text>
<text x="486.30" y="764.85" font-size="9.60" text-anchor="middle" fill="#aa2642" font-weight="normal" font-style="normal"  textLength="14.37" lengthAdjust="spacingAndGlyphs" stroke="#aa2642" stroke-width="0.08">NR</text>
<text x="337.00" y="780.00" font-size="9.74" text-anchor="start" fill="#3d9647" font-weight="normal" font-style="normal"  textLength="32.88" lengthAdjust="spacingAndGlyphs" stroke="#3d9647" stroke-width="0.08">Group 3</text>
<text x="404.00" y="780.00" font-size="9.60" text-anchor="middle" fill="#3d9647" font-weight="normal" font-style="normal"  textLength="11.07" lengthAdjust="spacingAndGlyphs" stroke="#3d9647" stroke-width="0.08">13</text>
<text x="436.20" y="780.00" font-size="9.60" text-anchor="middle" fill="#3d9647" font-weight="normal" font-style="normal"  textLength="5.53" lengthAdjust="spacingAndGlyphs" stroke="#3d9647" stroke-width="0.08">7</text>
<text x="486.30" y="780.00" font-size="9.60" text-anchor="middle" fill="#3d9647" font-weight="normal" font-style="normal"  textLength="24.40" lengthAdjust="spacingAndGlyphs" stroke="#3d9647" stroke-width="0.08">23.15</text>
<line x1="324.90" y1="787.20" x2="324.90" y2="939.80" stroke="#000" stroke-width="1.5" />
<line x1="321.00" y1="939.00" x2="501.51" y2="939.00" stroke="#000" stroke-width="1.5" />
<line x1="321.00" y1="939.00" x2="324.90" y2="939.00" stroke="#000" stroke-width="1.3" />
<text x="315.80" y="942.20" font-size="9.60" text-anchor="end" fill="#1a1a1a" font-weight="normal" font-style="normal"  textLength="5.53" lengthAdjust="spacingAndGlyphs" stroke="#1a1a1a" stroke-width="0.08">0</text>
<line x1="321.00" y1="909.40" x2="324.90" y2="909.40" stroke="#000" stroke-width="1.3" />
<text x="315.80" y="912.60" font-size="9.60" text-anchor="end" fill="#1a1a1a" font-weight="normal" font-style="normal"  textLength="11.07" lengthAdjust="spacingAndGlyphs" stroke="#1a1a1a" stroke-width="0.08">20</text>
<line x1="321.00" y1="879.80" x2="324.90" y2="879.80" stroke="#000" stroke-width="1.3" />
<text x="315.80" y="883.00" font-size="9.60" text-anchor="end" fill="#1a1a1a" font-weight="normal" font-style="normal"  textLength="11.07" lengthAdjust="spacingAndGlyphs" stroke="#1a1a1a" stroke-width="0.08">40</text>
<line x1="321.00" y1="850.20" x2="324.90" y2="850.20" stroke="#000" stroke-width="1.3" />
<text x="315.80" y="853.40" font-size="9.60" text-anchor="end" fill="#1a1a1a" font-weight="normal" font-style="normal"  textLength="11.07" lengthAdjust="spacingAndGlyphs" stroke="#1a1a1a" stroke-width="0.08">60</text>
<line x1="321.00" y1="820.60" x2="324.90" y2="820.60" stroke="#000" stroke-width="1.3" />
<text x="315.80" y="823.80" font-size="9.60" text-anchor="end" fill="#1a1a1a" font-weight="normal" font-style="normal"  textLength="11.07" lengthAdjust="spacingAndGlyphs" stroke="#1a1a1a" stroke-width="0.08">80</text>
<line x1="321.00" y1="791.00" x2="324.90" y2="791.00" stroke="#000" stroke-width="1.3" />
<text x="315.80" y="794.20" font-size="9.60" text-anchor="end" fill="#1a1a1a" font-weight="normal" font-style="normal"  textLength="16.60" lengthAdjust="spacingAndGlyphs" stroke="#1a1a1a" stroke-width="0.08">100</text>
<line x1="333.70" y1="939.00" x2="333.70" y2="943.20" stroke="#000" stroke-width="1.5" />
<text x="333.70" y="956.40" font-size="9.60" text-anchor="middle" fill="#1a1a1a" font-weight="normal" font-style="normal"  textLength="5.53" lengthAdjust="spacingAndGlyphs" stroke="#1a1a1a" stroke-width="0.08">0</text>
<line x1="360.95" y1="939.00" x2="360.95" y2="943.20" stroke="#000" stroke-width="1.5" />
<text x="360.95" y="956.40" font-size="9.60" text-anchor="middle" fill="#1a1a1a" font-weight="normal" font-style="normal"  textLength="11.07" lengthAdjust="spacingAndGlyphs" stroke="#1a1a1a" stroke-width="0.08">12</text>
<line x1="388.20" y1="939.00" x2="388.20" y2="943.20" stroke="#000" stroke-width="1.5" />
<text x="388.20" y="956.40" font-size="9.60" text-anchor="middle" fill="#1a1a1a" font-weight="normal" font-style="normal"  textLength="11.07" lengthAdjust="spacingAndGlyphs" stroke="#1a1a1a" stroke-width="0.08">24</text>
<line x1="415.46" y1="939.00" x2="415.46" y2="943.20" stroke="#000" stroke-width="1.5" />
<text x="415.46" y="956.40" font-size="9.60" text-anchor="middle" fill="#1a1a1a" font-weight="normal" font-style="normal"  textLength="11.07" lengthAdjust="spacingAndGlyphs" stroke="#1a1a1a" stroke-width="0.08">36</text>
<line x1="442.71" y1="939.00" x2="442.71" y2="943.20" stroke="#000" stroke-width="1.5" />
<text x="442.71" y="956.40" font-size="9.60" text-anchor="middle" fill="#1a1a1a" font-weight="normal" font-style="normal"  textLength="11.07" lengthAdjust="spacingAndGlyphs" stroke="#1a1a1a" stroke-width="0.08">48</text>
<line x1="469.96" y1="939.00" x2="469.96" y2="943.20" stroke="#000" stroke-width="1.5" />
<text x="469.96" y="956.40" font-size="9.60" text-anchor="middle" fill="#1a1a1a" font-weight="normal" font-style="normal"  textLength="11.07" lengthAdjust="spacingAndGlyphs" stroke="#1a1a1a" stroke-width="0.08">60</text>
<line x1="497.21" y1="939.00" x2="497.21" y2="943.20" stroke="#000" stroke-width="1.5" />
<text x="497.21" y="956.40" font-size="9.60" text-anchor="middle" fill="#1a1a1a" font-weight="normal" font-style="normal"  textLength="11.07" lengthAdjust="spacingAndGlyphs" stroke="#1a1a1a" stroke-width="0.08">72</text>
<text x="413.50" y="973.60" font-size="12.40" text-anchor="middle" fill="#1a1a1a" font-weight="bold" font-style="normal" textLength="126" lengthAdjust="spacingAndGlyphs">Months after diagnosis of DLBCL</text>
<text transform="translate(291.70,863.30) rotate(-90)" font-size="12.2" text-anchor="middle" fill="#1a1a1a" stroke="#1a1a1a" stroke-width="0.22" textLength="93" lengthAdjust="spacingAndGlyphs">Overall survival rate (%)</text>
<text x="339.10" y="928.00" font-size="9.6" fill="#1a1a1a" textLength="35" lengthAdjust="spacingAndGlyphs"><tspan font-style="italic">P</tspan> = .003</text>
<text x="280.80" y="990.00" font-size="9.74" text-anchor="start" fill="#2a5282" font-weight="normal" font-style="normal"  textLength="32.88" lengthAdjust="spacingAndGlyphs" stroke="#2a5282" stroke-width="0.08">Group 1</text>
<text x="333.70" y="990.00" font-size="9.60" text-anchor="middle" fill="#2a5282" font-weight="normal" font-style="normal"  textLength="11.07" lengthAdjust="spacingAndGlyphs" stroke="#2a5282" stroke-width="0.08">19</text>
<text x="360.95" y="990.00" font-size="9.60" text-anchor="middle" fill="#2a5282" font-weight="normal" font-style="normal"  textLength="11.07" lengthAdjust="spacingAndGlyphs" stroke="#2a5282" stroke-width="0.08">17</text>
<text x="388.20" y="990.00" font-size="9.60" text-anchor="middle" fill="#2a5282" font-weight="normal" font-style="normal"  textLength="11.07" lengthAdjust="spacingAndGlyphs" stroke="#2a5282" stroke-width="0.08">15</text>
<text x="415.46" y="990.00" font-size="9.60" text-anchor="middle" fill="#2a5282" font-weight="normal" font-style="normal"  textLength="10.33" lengthAdjust="spacingAndGlyphs" stroke="#2a5282" stroke-width="0.08">11</text>
<text x="442.71" y="990.00" font-size="9.60" text-anchor="middle" fill="#2a5282" font-weight="normal" font-style="normal"  textLength="5.53" lengthAdjust="spacingAndGlyphs" stroke="#2a5282" stroke-width="0.08">9</text>
<text x="469.96" y="990.00" font-size="9.60" text-anchor="middle" fill="#2a5282" font-weight="normal" font-style="normal"  textLength="5.53" lengthAdjust="spacingAndGlyphs" stroke="#2a5282" stroke-width="0.08">3</text>
<text x="280.80" y="1005.00" font-size="9.74" text-anchor="start" fill="#aa2642" font-weight="normal" font-style="normal"  textLength="32.88" lengthAdjust="spacingAndGlyphs" stroke="#aa2642" stroke-width="0.08">Group 2</text>
<text x="333.70" y="1005.00" font-size="9.60" text-anchor="middle" fill="#aa2642" font-weight="normal" font-style="normal"  textLength="5.53" lengthAdjust="spacingAndGlyphs" stroke="#aa2642" stroke-width="0.08">8</text>
<text x="360.95" y="1005.00" font-size="9.60" text-anchor="middle" fill="#aa2642" font-weight="normal" font-style="normal"  textLength="5.53" lengthAdjust="spacingAndGlyphs" stroke="#aa2642" stroke-width="0.08">6</text>
<text x="388.20" y="1005.00" font-size="9.60" text-anchor="middle" fill="#aa2642" font-weight="normal" font-style="normal"  textLength="5.53" lengthAdjust="spacingAndGlyphs" stroke="#aa2642" stroke-width="0.08">4</text>
<text x="415.46" y="1005.00" font-size="9.60" text-anchor="middle" fill="#aa2642" font-weight="normal" font-style="normal"  textLength="5.53" lengthAdjust="spacingAndGlyphs" stroke="#aa2642" stroke-width="0.08">2</text>
<text x="442.71" y="1005.00" font-size="9.60" text-anchor="middle" fill="#aa2642" font-weight="normal" font-style="normal"  textLength="5.53" lengthAdjust="spacingAndGlyphs" stroke="#aa2642" stroke-width="0.08">1</text>
<text x="469.96" y="1005.00" font-size="9.60" text-anchor="middle" fill="#aa2642" font-weight="normal" font-style="normal"  textLength="5.53" lengthAdjust="spacingAndGlyphs" stroke="#aa2642" stroke-width="0.08">1</text>
<text x="280.80" y="1020.00" font-size="9.74" text-anchor="start" fill="#3d9647" font-weight="normal" font-style="normal"  textLength="32.88" lengthAdjust="spacingAndGlyphs" stroke="#3d9647" stroke-width="0.08">Group 3</text>
<text x="333.70" y="1020.00" font-size="9.60" text-anchor="middle" fill="#3d9647" font-weight="normal" font-style="normal"  textLength="11.07" lengthAdjust="spacingAndGlyphs" stroke="#3d9647" stroke-width="0.08">13</text>
<text x="360.95" y="1020.00" font-size="9.60" text-anchor="middle" fill="#3d9647" font-weight="normal" font-style="normal"  textLength="11.07" lengthAdjust="spacingAndGlyphs" stroke="#3d9647" stroke-width="0.08">10</text>
<text x="388.20" y="1020.00" font-size="9.60" text-anchor="middle" fill="#3d9647" font-weight="normal" font-style="normal"  textLength="5.53" lengthAdjust="spacingAndGlyphs" stroke="#3d9647" stroke-width="0.08">3</text>
<text x="415.46" y="1020.00" font-size="9.60" text-anchor="middle" fill="#3d9647" font-weight="normal" font-style="normal"  textLength="5.53" lengthAdjust="spacingAndGlyphs" stroke="#3d9647" stroke-width="0.08">2</text>
<text x="442.71" y="1020.00" font-size="9.60" text-anchor="middle" fill="#3d9647" font-weight="normal" font-style="normal"  textLength="5.53" lengthAdjust="spacingAndGlyphs" stroke="#3d9647" stroke-width="0.08">1</text>
<text x="469.96" y="1020.00" font-size="9.60" text-anchor="middle" fill="#3d9647" font-weight="normal" font-style="normal"  textLength="5.53" lengthAdjust="spacingAndGlyphs" stroke="#3d9647" stroke-width="0.08">1</text>
<!--CURVESE-->
<path d="M334.15,791.00 H357.09 V799.73 H478.14 V799.73" fill="none" stroke="#1f4f8b" stroke-width="1.8"/>
<line x1="366.40" y1="797.53" x2="366.40" y2="801.93" stroke="#1f4f8b" stroke-width="1.1" />
<line x1="379.35" y1="797.53" x2="379.35" y2="801.93" stroke="#1f4f8b" stroke-width="1.1" />
<line x1="389.79" y1="797.53" x2="389.79" y2="801.93" stroke="#1f4f8b" stroke-width="1.1" />
<line x1="390.93" y1="797.53" x2="390.93" y2="801.93" stroke="#1f4f8b" stroke-width="1.1" />
<line x1="396.15" y1="797.53" x2="396.15" y2="801.93" stroke="#1f4f8b" stroke-width="1.1" />
<line x1="413.19" y1="797.53" x2="413.19" y2="801.93" stroke="#1f4f8b" stroke-width="1.1" />
<line x1="415.23" y1="797.53" x2="415.23" y2="801.93" stroke="#1f4f8b" stroke-width="1.1" />
<line x1="417.95" y1="797.53" x2="417.95" y2="801.93" stroke="#1f4f8b" stroke-width="1.1" />
<line x1="420.00" y1="797.53" x2="420.00" y2="801.93" stroke="#1f4f8b" stroke-width="1.1" />
<line x1="444.30" y1="797.53" x2="444.30" y2="801.93" stroke="#1f4f8b" stroke-width="1.1" />
<line x1="451.79" y1="797.53" x2="451.79" y2="801.93" stroke="#1f4f8b" stroke-width="1.1" />
<line x1="452.93" y1="797.53" x2="452.93" y2="801.93" stroke="#1f4f8b" stroke-width="1.1" />
<line x1="461.33" y1="797.53" x2="461.33" y2="801.93" stroke="#1f4f8b" stroke-width="1.1" />
<line x1="463.37" y1="797.53" x2="463.37" y2="801.93" stroke="#1f4f8b" stroke-width="1.1" />
<line x1="466.55" y1="797.53" x2="466.55" y2="801.93" stroke="#1f4f8b" stroke-width="1.1" />
<line x1="472.91" y1="797.53" x2="472.91" y2="801.93" stroke="#1f4f8b" stroke-width="1.1" />
<line x1="475.18" y1="797.53" x2="475.18" y2="801.93" stroke="#1f4f8b" stroke-width="1.1" />
<line x1="477.23" y1="797.53" x2="477.23" y2="801.93" stroke="#1f4f8b" stroke-width="1.1" />
<line x1="478.14" y1="797.53" x2="478.14" y2="801.93" stroke="#1f4f8b" stroke-width="1.1" />
<path d="M334.15,791.00 H351.19 V809.50 H382.30 V835.40 H483.59 V835.40" fill="none" stroke="#c41f3e" stroke-width="1.8"/>
<line x1="356.64" y1="807.30" x2="356.64" y2="811.70" stroke="#c41f3e" stroke-width="1.1" />
<line x1="373.90" y1="807.30" x2="373.90" y2="811.70" stroke="#c41f3e" stroke-width="1.1" />
<line x1="411.60" y1="833.20" x2="411.60" y2="837.60" stroke="#c41f3e" stroke-width="1.1" />
<line x1="413.19" y1="833.20" x2="413.19" y2="837.60" stroke="#c41f3e" stroke-width="1.1" />
<line x1="425.45" y1="833.20" x2="425.45" y2="837.60" stroke="#c41f3e" stroke-width="1.1" />
<line x1="483.59" y1="833.20" x2="483.59" y2="837.60" stroke="#c41f3e" stroke-width="1.1" />
<path d="M333.93,791.00 H334.04 V802.40 H345.51 V813.79 H353.91 V825.19 H368.67 V838.06 H375.03 V854.79 H385.93 V875.95 H417.95 V907.48 H482.45 V907.48" fill="none" stroke="#3f9f45" stroke-width="1.8"/>
<line x1="366.40" y1="822.99" x2="366.40" y2="827.39" stroke="#3f9f45" stroke-width="1.1" />
<line x1="369.58" y1="835.86" x2="369.58" y2="840.26" stroke="#3f9f45" stroke-width="1.1" />
<line x1="385.25" y1="852.59" x2="385.25" y2="856.99" stroke="#3f9f45" stroke-width="1.1" />
<line x1="397.06" y1="873.75" x2="397.06" y2="878.15" stroke="#3f9f45" stroke-width="1.1" />
<line x1="482.45" y1="905.28" x2="482.45" y2="909.68" stroke="#3f9f45" stroke-width="1.1" />
<rect x="0.5" y="0.5" width="519" height="1031" fill="none" stroke="#111" stroke-width="1.2"/>
</svg></body></html>
